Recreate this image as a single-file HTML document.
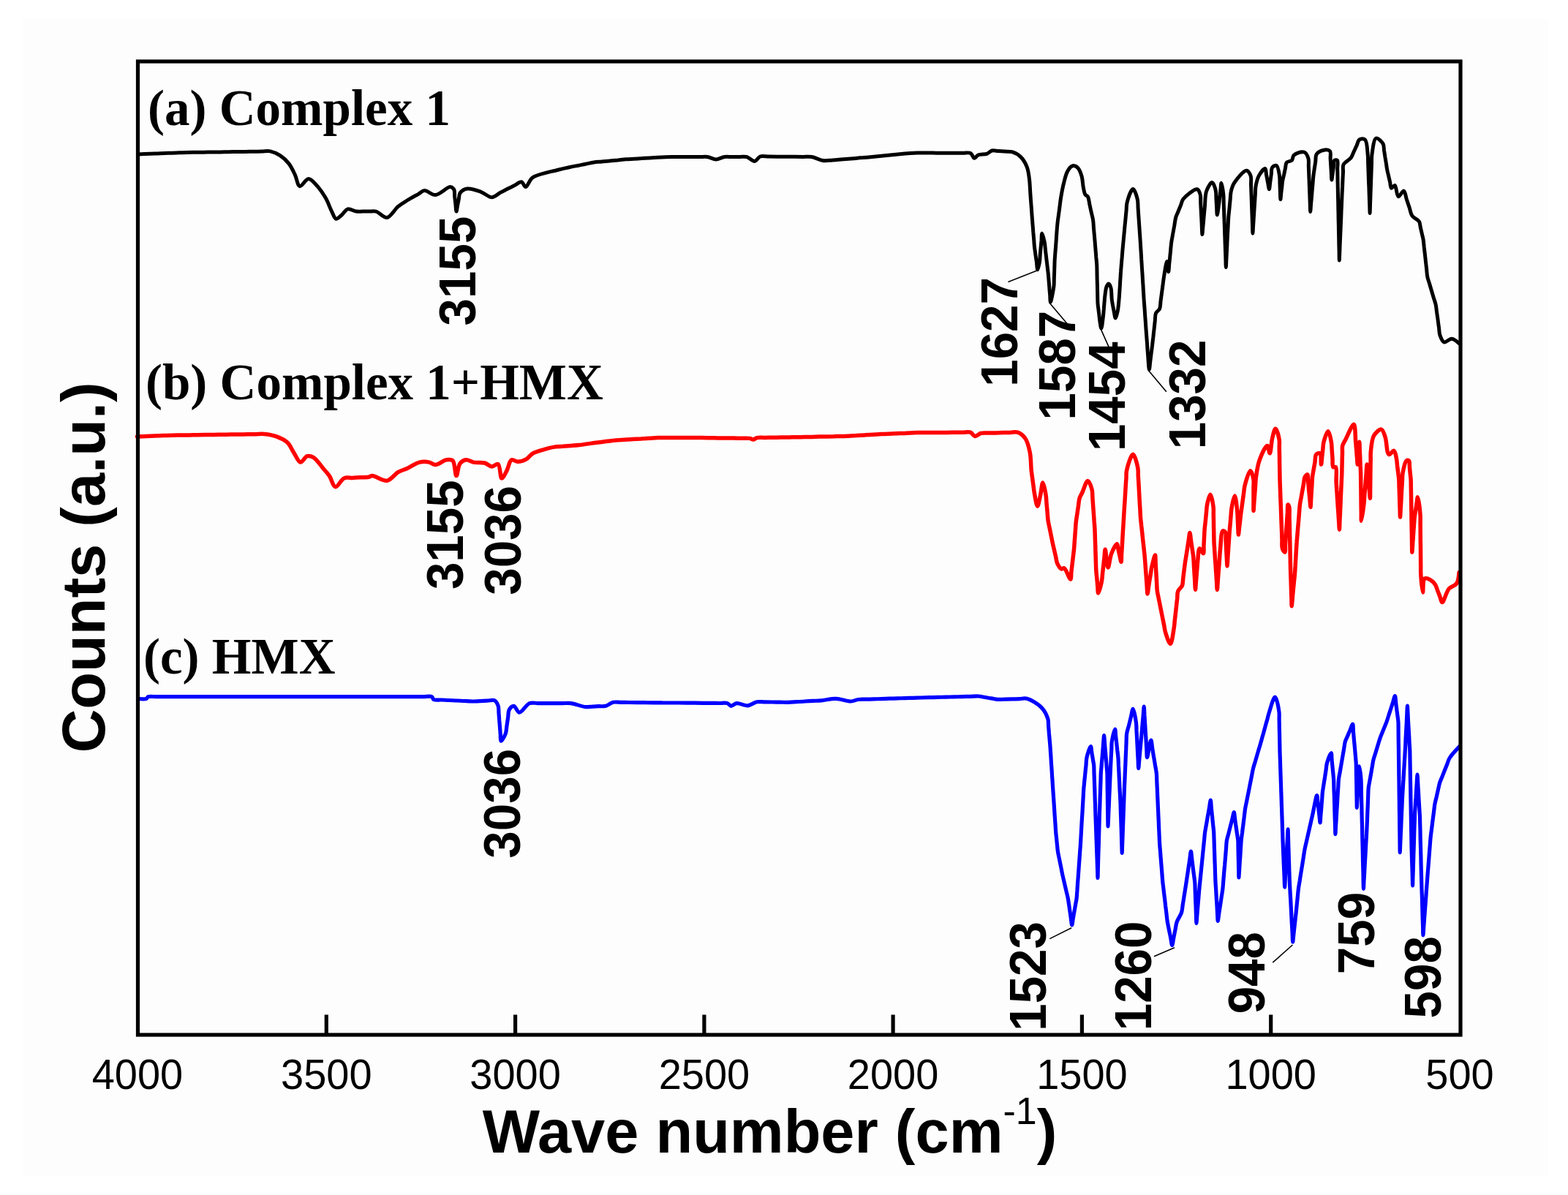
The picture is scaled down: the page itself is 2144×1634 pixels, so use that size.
<!DOCTYPE html>
<html><head><meta charset="utf-8"><title>IR spectra</title>
<style>
html,body{margin:0;padding:0;background:#fff;overflow:hidden}
svg{display:block}
.sans{font-family:"Liberation Sans",Arial,sans-serif}
.serif{font-family:"Liberation Serif","Times New Roman",serif}
</style></head><body>
<svg width="2144" height="1634" viewBox="0 0 2144 1634">
<rect x="0" y="0" width="2144" height="1634" fill="#ffffff"/>
<rect x="31" y="26" width="2086" height="1583" fill="#fdfdfe"/>
<g fill="none" stroke-linejoin="round" stroke-linecap="round">
<path stroke="#000000" stroke-width="5.0" d="M188.4,211.0C188.4,211.0 200.1,210.4 205.0,210.2C208.8,210.0 211.7,210.0 215.1,209.9C218.5,209.7 221.8,209.6 225.2,209.5C228.6,209.4 231.9,209.3 235.3,209.2C238.7,209.1 242.0,209.0 245.4,208.8C248.8,208.7 252.0,208.6 255.5,208.5C259.2,208.4 263.1,208.4 266.9,208.3C270.7,208.3 274.5,208.2 278.3,208.2C282.1,208.1 286.0,208.1 289.8,208.0C293.6,208.0 297.4,207.9 301.2,207.9C305.0,207.8 308.8,207.8 312.6,207.7C316.4,207.6 320.2,207.6 324.0,207.5C327.8,207.5 331.6,207.4 335.4,207.4C339.2,207.3 343.1,207.3 346.9,207.2C350.7,207.2 354.5,207.1 358.3,207.1C362.1,207.0 365.8,206.1 369.7,206.9C374.1,207.8 378.9,210.0 383.0,212.7C387.3,215.5 391.6,219.4 394.9,223.6C398.4,228.0 400.8,233.6 403.3,238.8C405.8,244.0 406.8,254.0 410.0,254.7C413.0,255.4 417.9,244.7 421.7,244.6C425.1,244.5 428.4,248.8 431.8,252.2C436.3,256.8 441.5,264.3 445.2,270.6C448.7,276.6 450.9,283.9 453.6,289.1C455.6,293.0 457.1,298.6 459.5,299.2C461.6,299.7 464.5,296.2 467.0,294.2C469.9,291.9 472.2,286.7 475.5,285.8C478.9,284.9 483.5,288.6 487.2,289.1C490.4,289.5 493.2,289.1 496.2,289.1C499.2,289.1 502.1,289.1 505.1,289.1C508.1,289.1 510.8,288.3 514.1,289.1C518.6,290.3 524.4,298.2 529.2,297.5C534.5,296.8 539.3,286.5 544.3,282.4C548.5,278.9 553.1,276.3 556.8,274.0C559.7,272.2 562.0,271.0 564.6,269.5C567.2,268.0 569.9,266.6 572.5,265.1C575.1,263.6 577.2,260.8 580.3,260.6C584.5,260.3 590.1,266.8 595.4,266.5C601.7,266.1 611.2,255.4 615.6,255.6C617.9,255.7 619.5,257.2 620.6,258.9C622.0,261.2 621.4,265.6 621.7,269.0C622.1,272.3 622.5,275.7 622.9,279.0C623.2,282.4 623.5,289.1 624.0,289.1C624.5,289.1 625.1,283.5 625.7,280.7C626.2,277.9 626.8,275.2 627.3,272.4C627.9,269.6 627.4,266.3 629.0,264.0C630.9,261.3 635.0,258.6 639.0,258.0C644.1,257.2 651.8,260.2 657.5,262.3C662.9,264.2 667.9,269.9 672.6,269.8C676.8,269.7 680.7,265.1 684.4,263.1C687.7,261.3 690.8,259.9 693.9,258.3C697.1,256.7 700.3,255.2 703.5,253.6C706.6,252.0 710.4,248.3 713.0,248.8C715.4,249.3 716.7,255.7 718.8,255.6C721.6,255.5 723.6,246.2 728.0,243.0C733.3,239.0 744.1,237.1 749.9,235.4C753.7,234.3 756.2,233.9 759.4,233.2C762.6,232.4 765.7,231.7 768.9,230.9C772.1,230.2 775.1,229.4 778.4,228.7C782.0,227.9 785.9,227.2 789.6,226.5C793.3,225.7 797.1,225.0 800.8,224.2C804.5,223.5 808.3,222.5 812.0,222.0C815.7,221.5 819.3,221.3 822.9,220.9C826.6,220.6 830.2,220.2 833.9,219.9C837.5,219.6 841.1,219.2 844.8,218.9C848.4,218.5 852.1,218.1 855.7,217.8C859.3,217.5 863.0,217.4 866.6,217.2C870.2,217.0 873.9,216.8 877.5,216.6C881.1,216.3 884.8,216.1 888.4,215.9C892.0,215.7 895.2,215.5 899.3,215.3C904.8,215.0 913.2,214.6 918.5,214.5C922.3,214.4 925.0,214.5 928.2,214.5C931.5,214.5 934.7,214.5 938.0,214.5C941.2,214.5 944.5,214.5 947.7,214.5C951.0,214.5 954.2,214.5 957.5,214.5C960.7,214.5 963.8,214.0 967.2,214.5C971.0,215.0 975.1,217.9 979.0,217.9C982.9,217.9 986.9,215.0 990.7,214.5C994.1,214.0 997.4,214.5 1000.8,214.5C1004.1,214.5 1007.5,214.5 1010.8,214.5C1014.2,214.5 1017.6,213.7 1020.9,214.5C1024.6,215.4 1028.6,220.7 1031.8,220.4C1034.7,220.1 1036.4,215.1 1039.4,214.0C1042.7,212.8 1047.2,214.1 1051.2,214.1C1055.1,214.1 1059.0,214.1 1062.9,214.2C1066.8,214.2 1070.7,214.2 1074.7,214.2C1078.6,214.3 1082.5,214.3 1086.4,214.3C1090.3,214.4 1094.2,214.4 1098.2,214.4C1102.1,214.4 1105.8,213.8 1109.9,214.5C1114.7,215.3 1120.0,218.8 1125.0,219.5C1129.6,220.1 1133.5,219.3 1138.5,219.0C1144.8,218.6 1154.2,217.8 1160.0,217.3C1164.0,217.0 1166.7,216.7 1170.0,216.4C1173.3,216.1 1176.7,215.8 1180.0,215.6C1183.3,215.3 1186.7,215.0 1190.0,214.7C1193.3,214.4 1196.7,214.1 1200.0,213.8C1203.3,213.5 1206.7,213.1 1210.0,212.8C1213.3,212.5 1216.7,212.1 1220.0,211.8C1223.3,211.5 1225.9,211.2 1230.0,210.8C1236.3,210.2 1247.9,209.2 1254.3,209.0C1258.5,208.9 1261.2,209.0 1264.7,209.1C1268.2,209.1 1271.6,209.1 1275.1,209.1C1278.6,209.1 1282.0,209.2 1285.5,209.2C1289.0,209.2 1292.4,209.2 1295.9,209.2C1299.4,209.2 1302.8,209.3 1306.3,209.3C1309.8,209.3 1313.2,209.3 1316.7,209.3C1320.2,209.4 1324.5,208.1 1327.1,209.4C1329.5,210.6 1330.5,216.1 1332.3,216.3C1333.9,216.5 1335.2,213.0 1337.4,212.0C1340.4,210.6 1346.1,211.5 1349.4,210.3C1352.1,209.3 1353.7,206.7 1356.3,206.0C1359.0,205.3 1362.4,206.4 1365.4,206.6C1368.5,206.8 1371.5,206.9 1374.6,207.1C1377.6,207.3 1380.6,206.8 1383.7,207.7C1387.6,208.9 1392.4,211.4 1395.7,214.6C1399.3,218.1 1402.2,223.2 1404.2,228.3C1406.4,233.9 1407.1,242.0 1407.7,247.1C1408.1,250.5 1408.1,252.8 1408.3,255.7C1408.5,258.5 1408.6,261.4 1408.8,264.2C1409.0,267.1 1409.2,269.7 1409.4,272.8C1409.7,276.3 1410.0,280.4 1410.3,284.2C1410.6,288.0 1410.8,291.9 1411.1,295.7C1411.4,299.5 1411.7,303.4 1412.0,307.1C1412.3,310.6 1412.6,314.0 1412.8,317.4C1413.1,320.8 1413.4,324.3 1413.7,327.7C1413.9,331.1 1414.1,334.6 1414.5,338.0C1414.9,341.4 1415.5,344.8 1415.9,348.3C1416.4,351.7 1416.9,355.1 1417.4,358.5C1417.8,362.0 1418.1,368.8 1418.8,368.8C1419.5,368.8 1420.8,361.9 1421.4,358.5C1422.0,355.2 1422.0,351.9 1422.2,348.6C1422.5,345.4 1422.8,342.1 1423.1,338.8C1423.4,335.5 1423.7,332.2 1424.0,329.0C1424.2,325.7 1424.2,319.2 1424.8,319.1C1425.5,319.0 1427.4,327.1 1428.2,331.1C1428.9,334.9 1429.1,338.5 1429.5,342.2C1429.9,346.0 1430.4,349.7 1430.8,353.4C1431.2,357.1 1431.7,360.8 1432.1,364.6C1432.5,368.3 1433.1,372.1 1433.4,375.7C1433.7,378.9 1433.9,381.9 1434.2,385.0C1434.4,388.1 1434.7,391.2 1434.9,394.4C1435.1,397.5 1435.4,400.6 1435.7,403.7C1435.9,406.8 1435.9,413.0 1436.4,413.0C1437.2,413.1 1440.3,396.7 1441.0,391.0C1441.4,387.4 1441.2,385.0 1441.3,382.0C1441.4,379.0 1441.5,376.0 1441.6,373.0C1441.7,370.0 1441.8,367.0 1441.9,364.0C1442.0,361.0 1442.0,357.9 1442.2,355.0C1442.4,352.2 1442.6,349.4 1442.8,346.7C1443.0,343.9 1443.3,341.1 1443.5,338.3C1443.7,335.6 1443.8,333.5 1444.1,330.0C1444.5,324.1 1445.1,313.5 1445.9,306.0C1446.6,299.3 1447.6,293.2 1448.4,287.0C1449.2,280.9 1449.8,275.0 1450.8,269.0C1451.8,262.9 1453.0,256.5 1454.5,250.6C1455.9,245.1 1457.2,238.8 1459.4,234.7C1461.1,231.6 1463.5,228.4 1465.5,227.3C1466.7,226.6 1467.9,226.4 1469.2,226.7C1470.8,227.0 1472.7,228.1 1474.1,229.8C1476.2,232.2 1477.8,236.7 1479.0,240.8C1480.4,245.5 1480.4,252.1 1481.4,256.7C1482.1,260.2 1482.5,263.9 1483.9,266.0C1484.8,267.5 1486.6,267.5 1487.5,269.0C1488.9,271.3 1489.1,276.1 1489.9,279.7C1490.7,283.2 1491.4,286.8 1492.2,290.3C1493.0,293.9 1494.1,297.5 1494.6,301.0C1495.1,304.4 1495.2,307.7 1495.4,311.1C1495.7,314.5 1496.0,317.8 1496.3,321.2C1496.6,324.6 1496.9,327.9 1497.2,331.3C1497.4,334.7 1497.7,338.0 1498.0,341.4C1498.3,344.8 1498.6,348.1 1498.8,351.5C1499.1,354.9 1499.5,358.2 1499.7,361.6C1499.9,365.1 1499.9,368.7 1500.0,372.3C1500.0,375.8 1500.1,379.4 1500.2,383.0C1500.3,386.5 1500.4,390.1 1500.5,393.6C1500.6,397.2 1500.7,400.8 1500.7,404.3C1500.8,407.9 1500.8,411.7 1501.0,415.0C1501.2,418.0 1501.7,420.6 1502.0,423.3C1502.3,426.1 1502.7,428.9 1503.0,431.7C1503.3,434.4 1503.5,437.2 1504.0,440.0C1504.5,443.0 1505.2,449.0 1505.8,449.0C1506.7,449.0 1507.9,436.8 1508.5,432.0C1508.9,428.5 1509.0,426.0 1509.3,423.0C1509.5,420.0 1509.8,417.0 1510.0,414.0C1510.3,411.0 1510.4,408.3 1510.8,405.0C1511.3,401.1 1511.8,395.0 1513.0,392.0C1513.7,390.2 1514.9,388.0 1515.8,388.0C1516.8,388.0 1518.1,390.7 1518.8,393.0C1520.1,396.9 1519.6,404.5 1520.3,410.0C1521.0,415.2 1522.1,420.5 1523.0,425.0C1523.8,428.7 1524.4,435.0 1525.3,435.0C1526.2,435.0 1527.5,429.0 1528.3,425.0C1529.4,419.3 1530.0,409.8 1530.5,404.0C1530.8,399.9 1530.9,396.9 1531.2,393.3C1531.4,389.8 1531.6,386.2 1531.8,382.7C1532.1,379.1 1532.2,375.5 1532.5,372.0C1532.7,368.6 1533.1,365.2 1533.3,361.8C1533.6,358.4 1533.9,355.0 1534.2,351.6C1534.4,348.2 1534.7,344.8 1535.0,341.4C1535.3,337.9 1535.7,334.2 1536.0,330.6C1536.4,327.0 1536.7,323.5 1537.0,319.9C1537.4,316.3 1537.7,312.7 1538.0,309.1C1538.4,305.5 1538.7,301.9 1539.1,298.3C1539.4,294.7 1539.7,291.2 1540.1,287.6C1540.4,284.0 1540.1,280.8 1541.1,276.8C1542.5,271.4 1546.7,258.6 1549.2,258.6C1551.4,258.6 1554.2,268.1 1555.3,272.7C1556.3,276.7 1555.8,280.5 1556.1,284.4C1556.4,288.3 1556.6,292.2 1556.9,296.1C1557.2,300.0 1557.4,304.0 1557.7,307.9C1558.0,311.8 1558.2,315.7 1558.5,319.6C1558.8,323.5 1559.0,327.4 1559.3,331.3C1559.6,335.2 1559.8,339.0 1560.0,342.8C1560.3,346.7 1560.5,350.5 1560.7,354.4C1561.0,358.2 1561.2,362.1 1561.4,365.9C1561.7,369.8 1561.9,373.6 1562.2,377.5C1562.4,381.3 1562.6,385.2 1562.9,389.0C1563.1,392.9 1563.3,396.7 1563.6,400.6C1563.8,404.4 1564.0,408.2 1564.3,412.1C1564.6,416.0 1564.9,420.0 1565.2,423.9C1565.4,427.8 1565.7,431.7 1566.0,435.7C1566.3,439.6 1566.6,443.5 1566.8,447.5C1567.1,451.4 1567.4,455.3 1567.7,459.2C1568.0,463.2 1568.3,467.1 1568.6,471.0C1568.8,474.9 1569.0,478.3 1569.4,482.8C1569.9,489.0 1570.7,505.0 1571.4,505.0C1571.9,505.0 1572.3,497.8 1572.8,494.2C1573.2,490.6 1573.7,487.1 1574.1,483.5C1574.6,479.9 1575.1,476.3 1575.5,472.7C1575.9,469.0 1576.3,465.3 1576.8,461.6C1577.2,457.9 1577.6,454.2 1578.0,450.5C1578.4,446.8 1578.8,443.1 1579.2,439.4C1579.7,435.7 1579.2,431.3 1580.5,428.3C1581.6,425.8 1584.5,424.7 1585.6,422.2C1586.9,419.2 1586.6,414.8 1587.1,411.1C1587.6,407.4 1588.1,403.7 1588.6,400.0C1589.1,396.3 1589.6,392.6 1590.1,388.9C1590.6,385.2 1590.9,382.0 1591.6,377.8C1592.6,372.1 1594.6,357.6 1595.7,357.6C1596.6,357.6 1597.2,371.7 1597.7,371.7C1598.1,371.7 1598.4,365.0 1598.7,361.6C1599.0,358.2 1599.4,354.9 1599.7,351.5C1600.0,348.1 1600.4,344.8 1600.7,341.4C1601.0,338.0 1601.2,334.8 1601.7,331.3C1602.2,327.6 1603.1,323.7 1603.7,319.9C1604.4,316.1 1605.1,312.2 1605.8,308.4C1606.4,304.6 1606.8,300.5 1607.8,297.0C1608.7,294.0 1610.1,291.4 1611.2,288.7C1612.3,285.9 1613.5,283.1 1614.6,280.3C1615.7,277.6 1615.8,274.8 1618.0,272.0C1621.5,267.6 1633.1,257.9 1636.9,258.7C1639.2,259.2 1640.3,263.0 1641.1,265.7C1642.1,268.8 1641.5,273.0 1641.7,276.7C1641.8,280.3 1642.0,284.0 1642.2,287.7C1642.4,291.3 1642.6,295.0 1642.8,298.6C1643.0,302.3 1643.2,306.0 1643.3,309.6C1643.5,313.3 1643.6,320.6 1643.9,320.6C1644.1,320.6 1644.5,314.3 1644.8,311.1C1645.1,307.9 1645.4,304.8 1645.7,301.6C1645.9,298.4 1646.2,295.3 1646.5,292.1C1646.8,288.9 1647.0,286.4 1647.4,282.6C1648.0,277.0 1647.5,267.3 1649.6,261.5C1651.3,256.7 1655.1,249.4 1657.3,249.5C1659.3,249.6 1661.3,256.4 1662.2,260.1C1663.1,263.7 1662.7,267.6 1662.9,271.4C1663.1,275.1 1663.4,278.9 1663.6,282.6C1663.8,286.4 1663.8,293.9 1664.3,293.9C1664.9,293.9 1666.4,280.5 1667.1,275.6C1667.5,272.2 1667.7,270.0 1668.1,267.1C1668.4,264.3 1668.7,261.5 1669.0,258.7C1669.4,255.8 1669.5,250.2 1670.0,250.2C1670.6,250.2 1672.3,260.9 1672.8,265.7C1673.2,269.7 1673.1,273.1 1673.2,276.8C1673.3,280.5 1673.4,284.2 1673.6,287.9C1673.7,291.6 1673.8,295.3 1674.0,299.0C1674.1,302.7 1674.2,306.4 1674.4,310.1C1674.5,313.8 1674.6,317.5 1674.7,321.2C1674.9,324.9 1675.0,328.6 1675.1,332.3C1675.3,336.0 1675.4,339.7 1675.5,343.4C1675.7,347.1 1675.8,350.8 1675.9,354.5C1676.0,358.2 1676.1,365.6 1676.3,365.6C1676.5,365.6 1676.7,357.9 1676.9,354.1C1677.1,350.3 1677.3,346.5 1677.5,342.6C1677.7,338.8 1677.9,335.0 1678.0,331.1C1678.2,327.3 1678.4,323.5 1678.6,319.7C1678.8,315.8 1679.0,312.0 1679.2,308.2C1679.4,304.4 1679.5,300.5 1679.8,296.7C1680.1,292.8 1680.6,288.9 1681.0,285.0C1681.4,281.1 1681.7,277.1 1682.1,273.2C1682.5,269.3 1682.4,265.3 1683.3,261.5C1684.2,257.6 1685.1,254.1 1687.6,250.2C1691.1,244.8 1700.4,233.1 1704.4,233.3C1706.9,233.4 1709.0,237.6 1710.1,240.4C1711.3,243.6 1710.4,247.9 1710.5,251.7C1710.6,255.4 1710.8,259.2 1710.9,262.9C1711.0,266.7 1711.2,270.4 1711.3,274.2C1711.4,277.9 1711.6,281.7 1711.7,285.4C1711.8,289.2 1712.0,292.9 1712.1,296.7C1712.2,300.4 1712.4,304.2 1712.5,307.9C1712.6,311.7 1712.7,319.2 1712.9,319.2C1713.1,319.2 1713.4,312.0 1713.6,308.4C1713.8,304.8 1714.1,301.2 1714.3,297.6C1714.5,294.0 1714.8,290.4 1715.0,286.8C1715.2,283.2 1715.5,279.6 1715.7,276.0C1715.9,272.4 1716.2,268.8 1716.4,265.2C1716.6,261.6 1716.4,258.2 1717.1,254.4C1717.9,250.0 1719.1,244.5 1721.3,240.4C1723.4,236.6 1728.1,230.1 1729.8,230.5C1731.3,230.9 1731.0,236.8 1731.7,239.9C1732.3,243.0 1732.9,246.2 1733.5,249.3C1734.2,252.4 1734.9,258.7 1735.4,258.7C1736.0,258.7 1736.3,252.1 1736.8,248.8C1737.3,245.5 1737.7,242.3 1738.2,239.0C1738.7,235.7 1738.1,231.2 1739.6,229.1C1740.8,227.4 1743.8,225.6 1745.3,226.3C1747.6,227.3 1748.8,236.0 1749.5,240.4C1750.1,244.2 1749.8,247.6 1750.0,251.2C1750.1,254.8 1750.3,258.3 1750.4,261.9C1750.6,265.5 1750.6,272.7 1750.9,272.7C1751.1,272.7 1751.5,267.1 1751.8,264.3C1752.1,261.5 1752.5,258.6 1752.8,255.8C1753.1,253.0 1753.2,250.2 1753.7,247.4C1754.2,244.6 1754.9,241.8 1755.6,239.0C1756.2,236.2 1756.8,233.3 1757.4,230.5C1758.1,227.7 1757.7,224.0 1759.3,222.1C1760.8,220.3 1764.7,220.9 1766.4,219.3C1768.0,217.7 1767.2,214.0 1769.2,212.2C1771.9,209.7 1779.9,206.8 1783.3,208.0C1786.1,209.0 1787.9,213.3 1788.9,216.4C1789.9,219.6 1789.2,223.4 1789.3,226.9C1789.4,230.3 1789.6,233.8 1789.7,237.3C1789.8,240.8 1790.0,244.3 1790.1,247.8C1790.2,251.3 1790.4,254.7 1790.5,258.2C1790.6,261.7 1790.8,265.2 1790.9,268.7C1791.0,272.2 1791.2,275.7 1791.3,279.1C1791.4,282.6 1791.5,289.6 1791.7,289.6C1791.9,289.6 1792.3,283.0 1792.5,279.8C1792.8,276.5 1793.1,273.2 1793.4,269.9C1793.7,266.6 1793.9,263.4 1794.2,260.1C1794.5,256.8 1794.8,253.5 1795.1,250.2C1795.3,247.0 1795.5,243.7 1795.9,240.4C1796.3,237.1 1796.9,233.8 1797.3,230.5C1797.8,227.2 1798.3,224.0 1798.8,220.7C1799.2,217.4 1798.5,213.3 1800.2,210.8C1802.0,208.1 1806.7,205.8 1810.0,205.2C1812.8,204.7 1816.9,204.9 1818.5,206.6C1820.2,208.4 1818.9,213.2 1819.1,216.4C1819.3,219.7 1819.5,223.0 1819.7,226.2C1819.9,229.5 1820.1,232.8 1820.3,236.1C1820.5,239.3 1820.6,245.9 1820.9,245.9C1821.2,245.9 1821.7,240.0 1822.2,237.0C1822.6,234.1 1823.0,231.1 1823.4,228.2C1823.9,225.2 1823.4,220.5 1824.7,219.3C1825.6,218.5 1827.7,218.5 1828.5,219.3C1829.9,220.7 1828.7,226.9 1828.7,230.7C1828.8,234.5 1828.9,238.3 1829.0,242.1C1829.0,245.9 1829.1,249.7 1829.2,253.5C1829.3,257.3 1829.4,261.1 1829.4,264.9C1829.5,268.7 1829.6,272.5 1829.7,276.3C1829.7,280.1 1829.8,283.9 1829.9,287.6C1830.0,291.4 1830.1,295.2 1830.1,299.0C1830.2,302.8 1830.3,306.6 1830.4,310.4C1830.4,314.2 1830.5,318.0 1830.6,321.8C1830.7,325.6 1830.8,329.4 1830.8,333.2C1830.9,337.0 1831.0,340.8 1831.1,344.6C1831.1,348.4 1831.2,356.0 1831.3,356.0C1831.4,356.0 1831.6,348.4 1831.8,344.6C1831.9,340.8 1832.1,337.0 1832.2,333.2C1832.4,329.4 1832.6,325.6 1832.7,321.8C1832.9,318.0 1833.0,314.2 1833.2,310.4C1833.4,306.7 1833.5,302.9 1833.7,299.1C1833.8,295.3 1834.0,291.5 1834.1,287.7C1834.3,283.9 1834.5,280.1 1834.6,276.3C1834.8,272.5 1834.9,268.6 1835.1,264.9C1835.3,261.5 1835.4,258.2 1835.6,254.9C1835.7,251.6 1835.9,248.3 1836.0,244.9C1836.2,241.6 1836.4,238.3 1836.5,235.0C1836.7,231.7 1835.6,228.0 1837.0,225.0C1838.7,221.4 1845.0,218.8 1847.4,215.5C1849.3,212.9 1849.9,210.0 1851.2,207.3C1852.5,204.6 1853.7,201.8 1855.0,199.1C1856.3,196.4 1856.8,192.2 1858.8,190.9C1860.7,189.7 1864.5,189.3 1866.4,190.9C1869.5,193.5 1869.6,205.8 1870.2,211.7C1870.7,216.0 1870.5,219.3 1870.6,223.1C1870.8,226.9 1870.9,230.7 1871.0,234.5C1871.2,238.3 1871.3,242.1 1871.4,245.9C1871.6,249.7 1871.7,253.4 1871.9,257.2C1872.0,261.0 1872.1,264.8 1872.3,268.6C1872.4,272.4 1872.5,276.2 1872.7,280.0C1872.8,283.8 1873.0,291.4 1873.1,291.4C1873.2,291.4 1873.4,283.8 1873.5,280.0C1873.6,276.2 1873.8,272.4 1873.9,268.6C1874.0,264.8 1874.2,261.0 1874.3,257.2C1874.4,253.4 1874.6,249.7 1874.7,245.9C1874.8,242.1 1875.0,238.3 1875.1,234.5C1875.2,230.7 1875.4,226.9 1875.5,223.1C1875.6,219.3 1875.3,216.1 1875.9,211.7C1876.8,205.4 1878.3,190.1 1881.6,189.0C1884.0,188.2 1889.3,193.6 1891.1,196.6C1892.6,199.2 1892.1,202.6 1892.5,205.6C1893.0,208.6 1893.5,211.6 1893.9,214.6C1894.4,217.6 1894.9,220.6 1895.4,223.6C1895.8,226.6 1896.2,229.7 1896.8,232.6C1897.3,235.4 1898.1,238.1 1898.7,240.8C1899.3,243.6 1900.0,246.3 1900.6,249.1C1901.2,251.8 1901.2,256.9 1902.5,257.3C1903.6,257.7 1905.9,253.1 1907.2,253.5C1909.4,254.2 1909.6,268.1 1912.0,268.7C1914.0,269.2 1917.6,260.7 1919.5,261.1C1921.5,261.6 1922.0,268.7 1923.3,272.5C1924.6,276.3 1925.8,280.0 1927.1,283.8C1928.4,287.6 1928.7,292.0 1930.9,295.2C1933.1,298.4 1938.5,299.9 1940.4,302.8C1941.9,305.3 1941.7,308.3 1942.3,311.0C1942.9,313.8 1943.6,316.5 1944.2,319.3C1944.8,322.0 1945.6,324.6 1946.1,327.5C1946.6,330.7 1946.9,334.3 1947.2,337.7C1947.6,341.2 1948.0,344.6 1948.4,348.0C1948.8,351.4 1949.1,354.8 1949.5,358.2C1949.9,361.6 1950.3,365.0 1950.7,368.5C1951.0,371.9 1951.1,375.4 1951.8,378.7C1952.5,382.0 1953.7,385.0 1954.7,388.2C1955.6,391.4 1956.5,394.5 1957.5,397.7C1958.4,400.9 1959.4,404.0 1960.3,407.2C1961.3,410.4 1962.5,413.4 1963.2,416.7C1963.9,420.1 1964.1,423.7 1964.6,427.1C1965.1,430.6 1965.6,434.1 1966.1,437.5C1966.5,441.0 1967.0,444.5 1967.5,448.0C1968.0,451.4 1967.7,455.1 1968.9,458.4C1970.1,461.8 1971.9,467.1 1974.6,467.9C1977.3,468.7 1981.6,463.0 1985.0,463.2C1988.5,463.4 1995.4,469.8 1995.4,469.8"/>
<path stroke="#ff0000" stroke-width="5.5" d="M187.5,596.9C187.5,596.9 195.5,596.6 199.5,596.5C203.5,596.3 207.5,596.2 211.4,596.0C215.4,595.9 219.4,595.8 223.4,595.6C227.4,595.5 231.5,595.3 235.4,595.2C239.3,595.1 243.0,595.1 246.8,595.0C250.7,595.0 254.5,594.9 258.3,594.9C262.1,594.8 265.9,594.8 269.7,594.7C273.6,594.7 277.4,594.6 281.2,594.6C285.0,594.5 288.8,594.5 292.6,594.4C296.4,594.4 300.3,594.3 304.1,594.3C307.9,594.2 311.7,594.2 315.5,594.1C319.3,594.1 323.1,594.0 327.0,594.0C330.8,593.9 334.6,593.9 338.4,593.8C342.2,593.8 346.0,593.7 349.9,593.7C353.7,593.6 357.1,593.1 361.3,593.5C366.4,594.0 372.8,594.9 378.1,596.9C383.4,598.9 389.2,601.5 393.2,605.3C397.0,608.9 398.7,614.3 401.6,618.7C404.6,623.2 407.5,631.7 410.8,632.1C413.7,632.4 416.8,624.6 420.1,623.7C422.8,623.0 425.7,623.8 428.5,625.4C432.9,627.9 438.0,635.9 441.9,640.5C445.1,644.2 447.7,646.8 450.3,650.6C453.3,655.0 455.3,665.2 458.7,665.7C462.0,666.2 466.1,655.8 470.4,653.9C473.9,652.3 477.9,653.5 481.6,653.4C485.3,653.2 489.1,653.0 492.8,652.8C496.5,652.7 501.0,652.9 504.0,652.3C506.0,651.9 506.8,650.6 509.0,650.6C513.5,650.6 523.2,658.3 529.2,657.3C534.9,656.3 539.3,648.5 544.3,645.6C548.5,643.2 552.4,642.5 556.8,640.5C562.0,638.1 568.2,633.4 573.6,632.1C578.2,631.0 583.1,631.3 587.0,632.1C590.2,632.7 592.2,635.6 595.4,635.5C599.7,635.4 606.1,629.5 610.5,628.8C613.6,628.3 616.8,627.8 618.9,629.6C622.3,632.6 622.2,650.6 624.0,650.6C625.6,650.6 626.1,637.5 629.0,633.8C631.1,631.1 634.4,629.1 637.4,628.8C640.5,628.5 643.7,631.4 647.5,632.1C652.0,633.0 658.2,631.8 662.6,633.0C666.4,634.0 669.4,637.9 672.6,638.0C675.5,638.1 678.9,633.5 681.0,634.6C684.2,636.2 683.7,653.6 686.1,654.0C687.9,654.3 690.7,647.7 692.8,643.9C695.2,639.5 696.3,630.3 699.5,628.8C701.8,627.7 704.9,631.3 707.9,631.3C711.5,631.3 716.2,629.8 719.6,627.9C722.9,626.1 724.6,622.4 728.0,620.4C731.8,618.1 736.7,616.8 741.5,615.3C746.7,613.7 753.2,611.9 758.3,611.1C762.4,610.4 765.7,610.5 769.5,610.3C773.2,610.0 776.9,609.7 780.6,609.4C784.4,609.2 787.7,609.1 791.8,608.6C796.8,608.0 803.6,606.8 808.6,606.1C812.7,605.5 816.1,605.2 819.8,604.7C823.5,604.2 827.3,603.8 831.0,603.3C834.7,602.8 838.4,602.2 842.2,601.9C846.0,601.6 849.8,601.4 853.6,601.2C857.4,601.0 861.2,600.8 865.0,600.5C868.8,600.3 872.7,600.1 876.5,599.9C880.3,599.6 884.1,599.4 887.9,599.2C891.7,599.0 895.6,598.6 899.3,598.5C902.8,598.4 906.0,598.5 909.4,598.5C912.8,598.5 916.2,598.5 919.5,598.5C922.9,598.5 926.3,598.5 929.6,598.5C933.0,598.6 936.4,598.6 939.8,598.6C943.1,598.6 946.5,598.6 949.9,598.6C953.3,598.6 956.6,598.6 960.0,598.6C963.5,598.6 967.2,598.7 970.8,598.7C974.4,598.8 978.1,598.8 981.7,598.9C985.3,598.9 988.9,599.0 992.5,599.0C996.1,599.0 999.7,599.1 1003.3,599.1C1006.9,599.2 1010.6,599.2 1014.2,599.3C1017.8,599.3 1022.1,598.9 1025.0,599.4C1027.0,599.7 1028.4,601.1 1030.0,601.0C1031.7,600.9 1033.0,599.1 1035.0,598.6C1037.9,597.9 1042.2,598.5 1045.8,598.4C1049.4,598.4 1053.1,598.3 1056.7,598.3C1060.3,598.2 1063.9,598.2 1067.5,598.1C1071.1,598.0 1074.7,598.0 1078.3,597.9C1081.9,597.9 1085.6,597.8 1089.2,597.8C1092.8,597.7 1096.5,597.7 1100.0,597.6C1103.4,597.5 1106.7,597.4 1110.0,597.4C1113.3,597.3 1116.7,597.2 1120.0,597.1C1123.3,597.1 1126.7,597.0 1130.0,596.9C1133.3,596.8 1136.7,596.7 1140.0,596.7C1143.3,596.6 1146.7,596.5 1150.0,596.4C1153.3,596.4 1156.6,596.3 1160.0,596.2C1163.6,596.1 1167.5,595.8 1171.2,595.6C1175.0,595.3 1178.8,595.1 1182.5,594.9C1186.2,594.7 1190.0,594.5 1193.8,594.2C1197.5,594.0 1201.4,593.8 1205.0,593.6C1208.4,593.4 1211.6,593.3 1214.9,593.2C1218.1,593.1 1221.4,592.9 1224.7,592.8C1228.0,592.7 1231.3,592.5 1234.6,592.4C1237.9,592.3 1241.2,592.1 1244.4,592.0C1247.7,591.9 1251.0,591.7 1254.3,591.6C1257.7,591.5 1261.2,591.6 1264.7,591.5C1268.1,591.5 1271.6,591.5 1275.1,591.5C1278.5,591.5 1282.0,591.4 1285.5,591.4C1288.9,591.4 1292.4,591.4 1295.8,591.4C1299.3,591.4 1302.8,591.3 1306.2,591.3C1309.7,591.3 1313.2,591.3 1316.6,591.3C1320.1,591.2 1324.1,590.2 1327.0,591.2C1329.5,592.1 1330.9,596.1 1333.2,596.4C1335.7,596.7 1338.6,593.0 1341.6,592.3C1344.7,591.5 1348.3,592.2 1351.6,592.1C1354.9,592.0 1358.2,591.9 1361.6,591.9C1364.9,591.8 1368.2,591.7 1371.5,591.6C1374.9,591.6 1378.2,591.5 1381.5,591.4C1384.8,591.3 1388.3,590.1 1391.5,591.2C1395.2,592.4 1399.2,595.7 1401.9,599.5C1405.2,604.2 1406.8,611.5 1408.2,618.3C1409.8,625.9 1409.5,636.7 1410.2,643.2C1410.7,647.4 1411.1,650.2 1411.6,653.6C1412.1,657.1 1412.5,660.6 1413.0,664.1C1413.5,667.5 1413.7,670.6 1414.4,674.5C1415.4,679.6 1417.2,692.2 1418.6,692.2C1419.9,692.2 1421.5,681.8 1422.7,676.5C1423.9,671.1 1424.7,659.9 1425.9,659.9C1427.1,659.9 1429.2,671.4 1430.0,676.5C1430.7,680.7 1430.7,684.4 1431.0,688.3C1431.4,692.2 1431.7,696.2 1432.1,700.1C1432.4,704.0 1432.6,708.1 1433.1,711.9C1433.6,715.5 1434.5,718.8 1435.2,722.3C1435.9,725.8 1436.6,729.2 1437.3,732.7C1438.0,736.2 1438.7,739.8 1439.4,743.1C1440.1,746.2 1440.8,749.1 1441.5,752.2C1442.2,755.2 1442.9,758.2 1443.6,761.2C1444.3,764.3 1444.4,767.5 1445.7,770.3C1447.0,773.1 1449.5,777.2 1451.4,777.9C1452.6,778.3 1453.9,776.4 1455.2,776.9C1457.9,778.1 1462.2,792.4 1463.7,792.1C1464.9,791.9 1464.5,785.3 1464.9,781.9C1465.3,778.5 1465.7,775.1 1466.1,771.7C1466.5,768.3 1466.9,764.9 1467.3,761.5C1467.7,758.1 1468.2,754.6 1468.5,751.3C1468.8,748.1 1469.0,745.0 1469.2,741.8C1469.4,738.6 1469.7,735.5 1469.9,732.3C1470.1,729.1 1470.4,726.0 1470.6,722.8C1470.8,719.6 1470.9,716.6 1471.3,713.3C1471.7,709.8 1472.4,706.1 1472.9,702.6C1473.4,699.0 1474.0,695.4 1474.5,691.8C1475.0,688.3 1475.1,684.3 1476.1,681.1C1477.0,678.3 1478.4,676.5 1479.8,673.5C1481.9,669.1 1485.1,657.4 1487.4,657.4C1489.4,657.4 1492.1,665.7 1493.1,669.7C1494.0,673.3 1493.6,676.8 1493.9,680.3C1494.1,683.9 1494.4,687.4 1494.6,690.9C1494.9,694.5 1495.1,698.0 1495.4,701.6C1495.6,705.1 1495.9,708.6 1496.1,712.2C1496.4,715.7 1496.7,719.2 1496.9,722.8C1497.1,726.5 1497.2,730.4 1497.3,734.2C1497.4,738.0 1497.5,741.8 1497.7,745.6C1497.8,749.4 1497.9,753.2 1498.0,757.0C1498.2,760.8 1498.3,764.6 1498.4,768.4C1498.5,772.2 1498.6,776.1 1498.8,779.8C1499.0,783.4 1499.4,786.8 1499.8,790.2C1500.1,793.7 1500.4,797.2 1500.7,800.7C1501.1,804.1 1501.0,811.0 1501.7,811.1C1502.6,811.2 1505.4,799.8 1506.4,794.9C1507.2,790.9 1507.2,787.6 1507.6,784.0C1508.0,780.4 1508.4,776.7 1508.8,773.1C1509.2,769.5 1509.6,765.8 1510.0,762.2C1510.4,758.6 1510.6,751.3 1511.2,751.3C1512.1,751.3 1513.5,775.9 1515.0,776.0C1516.4,776.1 1517.4,762.6 1519.7,757.0C1521.7,752.0 1525.7,743.5 1527.3,743.7C1528.5,743.9 1528.6,749.2 1529.2,751.9C1529.8,754.7 1530.5,757.4 1531.1,760.2C1531.7,762.9 1532.6,768.4 1533.0,768.4C1533.5,768.4 1533.4,761.2 1533.6,757.6C1533.8,754.1 1534.1,750.5 1534.3,746.9C1534.5,743.3 1534.7,739.7 1534.9,736.1C1535.1,732.6 1535.3,729.0 1535.5,725.4C1535.7,721.8 1536.0,718.2 1536.2,714.6C1536.4,711.1 1536.6,707.4 1536.8,703.9C1537.0,700.5 1537.2,697.1 1537.4,693.8C1537.6,690.4 1537.9,687.0 1538.1,683.6C1538.3,680.3 1538.5,676.9 1538.7,673.5C1538.9,670.1 1539.1,666.7 1539.3,663.4C1539.5,660.0 1539.8,656.6 1540.0,653.2C1540.2,649.9 1539.7,647.0 1540.6,643.1C1541.9,637.1 1546.5,621.3 1549.1,621.3C1551.5,621.3 1554.6,633.9 1555.7,639.3C1556.6,643.5 1556.1,646.9 1556.3,650.7C1556.5,654.5 1556.8,658.3 1557.0,662.1C1557.2,665.9 1557.4,669.7 1557.6,673.5C1557.8,677.2 1558.0,681.0 1558.2,684.8C1558.4,688.6 1558.7,692.4 1558.9,696.2C1559.1,700.0 1559.2,703.9 1559.5,707.6C1559.8,711.2 1560.3,714.7 1560.6,718.2C1561.0,721.8 1561.4,725.3 1561.8,728.9C1562.2,732.4 1562.5,736.0 1562.9,739.5C1563.3,743.1 1563.7,746.6 1564.1,750.2C1564.4,753.7 1564.9,757.3 1565.2,760.8C1565.5,764.2 1565.7,767.6 1566.0,771.0C1566.2,774.5 1566.5,777.9 1566.7,781.3C1567.0,784.7 1567.2,788.1 1567.5,791.5C1567.7,794.9 1568.0,798.3 1568.2,801.8C1568.5,805.2 1568.6,812.0 1569.0,812.0C1569.4,812.0 1570.0,806.0 1570.4,803.0C1570.9,800.0 1571.4,797.0 1571.8,794.0C1572.3,791.0 1572.8,788.0 1573.3,785.0C1573.8,782.0 1573.9,779.5 1574.7,776.0C1575.8,771.2 1578.7,758.8 1579.5,758.9C1580.1,759.0 1579.9,765.5 1580.1,768.8C1580.2,772.0 1580.4,775.3 1580.6,778.6C1580.8,781.9 1581.0,785.2 1581.2,788.5C1581.4,791.8 1581.6,795.1 1581.7,798.3C1581.9,801.6 1581.9,805.0 1582.3,808.2C1582.7,811.4 1583.6,814.5 1584.2,817.7C1584.8,820.9 1585.5,824.0 1586.1,827.2C1586.7,830.4 1587.4,833.5 1588.0,836.7C1588.6,839.9 1589.3,843.0 1589.9,846.2C1590.5,849.3 1591.2,852.5 1591.8,855.6C1592.4,858.8 1592.6,861.6 1593.7,865.1C1595.1,869.6 1598.5,880.5 1600.3,880.3C1602.4,880.1 1604.1,865.2 1605.1,859.5C1605.8,855.5 1605.9,852.7 1606.2,849.2C1606.6,845.8 1607.0,842.4 1607.4,839.0C1607.8,835.6 1608.1,832.1 1608.5,828.7C1608.9,825.3 1609.3,821.9 1609.7,818.5C1610.0,815.0 1609.6,811.2 1610.8,808.2C1611.9,805.3 1615.3,803.5 1616.5,800.6C1617.7,797.6 1617.3,793.9 1617.8,790.5C1618.2,787.1 1618.6,783.8 1619.0,780.4C1619.5,777.0 1619.8,773.7 1620.3,770.3C1620.8,766.8 1621.4,763.3 1622.0,759.8C1622.5,756.4 1623.1,752.9 1623.6,749.4C1624.1,745.9 1624.7,742.4 1625.2,739.0C1625.8,735.5 1626.4,728.5 1626.9,728.5C1627.4,728.5 1628.0,735.7 1628.5,739.3C1629.0,742.9 1629.6,746.4 1630.1,750.0C1630.6,753.6 1631.3,757.2 1631.7,760.8C1632.1,764.5 1632.2,768.4 1632.4,772.2C1632.6,776.0 1632.9,779.8 1633.1,783.5C1633.3,787.3 1633.6,791.1 1633.8,794.9C1634.0,798.7 1634.2,806.3 1634.5,806.3C1634.7,806.3 1635.0,799.8 1635.3,796.5C1635.6,793.2 1635.8,790.0 1636.1,786.7C1636.4,783.4 1636.6,780.2 1636.9,776.9C1637.2,773.6 1637.3,770.8 1637.7,767.1C1638.3,762.2 1638.5,750.4 1640.3,750.0C1641.5,749.7 1644.4,757.1 1645.4,756.8C1646.5,756.5 1645.8,749.6 1646.0,745.9C1646.2,742.3 1646.3,738.7 1646.5,735.1C1646.7,731.4 1646.8,727.9 1647.1,724.2C1647.4,720.4 1647.9,716.6 1648.3,712.8C1648.7,709.0 1649.0,705.2 1649.4,701.4C1649.8,697.6 1649.8,693.9 1650.6,690.0C1651.5,685.6 1653.5,676.3 1654.9,676.3C1656.4,676.3 1658.5,688.5 1659.1,693.4C1659.6,697.0 1659.2,699.8 1659.3,703.0C1659.3,706.2 1659.4,709.4 1659.5,712.6C1659.5,715.8 1659.6,719.0 1659.6,722.2C1659.7,725.4 1659.8,728.6 1659.8,731.8C1659.9,735.0 1659.9,738.1 1660.0,741.4C1660.1,744.9 1660.5,748.6 1660.7,752.2C1661.0,755.9 1661.2,759.5 1661.4,763.1C1661.7,766.7 1661.9,770.3 1662.2,774.0C1662.4,777.6 1662.6,781.2 1662.9,784.8C1663.1,788.4 1663.3,792.0 1663.6,795.6C1663.8,799.3 1664.0,806.5 1664.3,806.5C1664.6,806.5 1664.9,799.0 1665.2,795.2C1665.4,791.4 1665.7,787.7 1666.0,783.9C1666.3,780.1 1666.6,776.4 1666.9,772.6C1667.2,768.8 1667.5,765.1 1667.7,761.3C1668.0,757.5 1668.1,754.5 1668.6,750.0C1669.3,743.5 1669.6,727.2 1672.0,726.0C1672.9,725.5 1674.6,726.5 1675.4,727.7C1676.7,729.7 1675.8,735.4 1676.1,739.2C1676.3,743.1 1676.5,747.0 1676.7,750.8C1676.9,754.6 1677.1,758.5 1677.3,762.4C1677.6,766.2 1677.8,773.9 1678.0,773.9C1678.2,773.9 1678.5,767.3 1678.7,764.0C1678.9,760.6 1679.1,757.3 1679.4,754.0C1679.6,750.7 1679.8,747.4 1680.0,744.1C1680.3,740.8 1680.5,737.5 1680.7,734.1C1680.9,730.8 1681.1,727.5 1681.4,724.2C1681.7,720.9 1682.0,717.7 1682.3,714.5C1682.6,711.3 1682.8,708.0 1683.1,704.8C1683.4,701.6 1683.4,698.8 1684.0,695.1C1684.8,690.2 1687.1,677.9 1688.3,678.0C1689.7,678.1 1691.1,692.7 1691.7,698.5C1692.2,702.7 1692.1,705.7 1692.3,709.4C1692.5,713.0 1692.6,716.6 1692.8,720.2C1693.0,723.9 1693.1,731.1 1693.4,731.1C1693.7,731.1 1694.2,724.6 1694.5,721.4C1694.9,718.2 1695.3,714.9 1695.7,711.7C1696.0,708.5 1696.4,705.2 1696.8,702.0C1697.2,698.8 1697.7,695.7 1698.1,692.6C1698.5,689.4 1699.0,686.3 1699.4,683.1C1699.8,680.0 1700.3,676.9 1700.7,673.7C1701.1,670.6 1701.1,668.0 1702.0,664.3C1703.4,658.7 1707.5,643.7 1709.7,643.7C1711.4,643.7 1713.3,651.8 1714.0,655.7C1714.6,659.3 1714.0,662.8 1714.0,666.4C1714.0,670.0 1714.0,673.5 1714.0,677.1C1714.0,680.7 1714.0,684.2 1714.0,687.8C1714.0,691.4 1713.9,698.5 1714.0,698.5C1714.1,698.5 1714.6,690.8 1714.8,687.0C1715.1,683.1 1715.4,679.2 1715.7,675.4C1716.0,671.6 1716.3,667.7 1716.6,663.8C1716.8,660.0 1716.8,656.8 1717.4,652.3C1718.3,645.7 1719.8,635.6 1722.5,628.3C1725.0,621.4 1730.4,609.2 1732.8,609.4C1734.5,609.5 1735.3,619.8 1736.3,619.7C1737.7,619.6 1738.2,605.1 1739.7,599.1C1740.9,594.3 1742.5,586.3 1744.0,586.3C1745.6,586.3 1748.3,596.2 1749.1,600.8C1749.8,604.7 1749.2,608.1 1749.3,611.8C1749.3,615.4 1749.4,619.1 1749.5,622.8C1749.5,626.4 1749.6,630.1 1749.6,633.7C1749.7,637.4 1749.8,641.1 1749.8,644.7C1749.9,648.4 1749.9,652.0 1750.0,655.7C1750.1,659.6 1750.3,663.5 1750.4,667.5C1750.6,671.4 1750.7,675.3 1750.8,679.2C1751.0,683.2 1751.1,687.1 1751.3,691.0C1751.4,694.9 1751.6,698.9 1751.7,702.8C1751.8,706.7 1752.0,710.7 1752.1,714.6C1752.3,718.5 1752.4,722.4 1752.6,726.4C1752.7,730.3 1752.8,734.2 1753.0,738.1C1753.1,742.1 1752.4,746.9 1753.4,749.9C1754.1,752.1 1756.1,755.3 1756.8,755.1C1757.8,754.8 1757.3,747.9 1757.5,744.2C1757.8,740.6 1758.0,737.0 1758.2,733.4C1758.5,729.8 1758.7,726.2 1758.9,722.5C1759.2,718.9 1759.4,715.3 1759.7,711.7C1759.9,708.1 1760.1,704.5 1760.4,700.9C1760.6,697.2 1760.4,690.1 1761.1,690.0C1761.5,689.9 1762.4,691.9 1762.8,693.4C1763.5,696.1 1763.0,701.2 1763.0,705.2C1763.1,709.1 1763.2,713.0 1763.3,716.9C1763.4,720.8 1763.4,724.8 1763.5,728.7C1763.6,732.6 1763.7,736.5 1763.8,740.4C1763.9,744.3 1763.9,748.3 1764.0,752.2C1764.1,756.1 1764.2,760.0 1764.3,763.9C1764.3,767.9 1764.4,771.9 1764.5,775.7C1764.6,779.3 1764.7,782.8 1764.8,786.3C1765.0,789.9 1765.1,793.4 1765.2,796.9C1765.3,800.5 1765.4,804.0 1765.5,807.6C1765.6,811.1 1765.7,814.6 1765.9,818.2C1766.0,821.7 1766.0,828.8 1766.2,828.8C1766.4,828.8 1766.9,821.4 1767.3,817.6C1767.6,813.9 1768.0,810.2 1768.3,806.5C1768.7,802.8 1769.1,799.1 1769.4,795.4C1769.8,791.6 1770.2,787.9 1770.5,784.2C1770.8,780.6 1770.9,777.1 1771.2,773.5C1771.4,769.9 1771.6,766.4 1771.8,762.8C1772.0,759.2 1772.2,755.7 1772.4,752.1C1772.7,748.5 1772.8,744.9 1773.1,741.4C1773.3,737.9 1773.7,734.5 1774.0,731.1C1774.2,727.7 1774.5,724.3 1774.8,720.8C1775.1,717.4 1775.4,714.0 1775.7,710.6C1776.0,707.1 1776.3,703.7 1776.5,700.3C1776.8,696.9 1777.0,693.3 1777.4,690.0C1777.8,686.8 1778.5,683.7 1779.1,680.6C1779.7,677.4 1780.2,674.3 1780.8,671.1C1781.4,668.0 1781.9,664.9 1782.5,661.7C1783.1,658.6 1783.0,654.6 1784.2,652.3C1785.0,650.7 1786.9,648.5 1787.7,648.8C1788.9,649.2 1788.4,656.2 1788.8,659.9C1789.1,663.7 1789.5,667.4 1789.8,671.1C1790.2,674.8 1790.6,678.5 1790.9,682.2C1791.3,686.0 1791.7,693.4 1792.0,693.4C1792.3,693.4 1792.4,686.6 1792.6,683.1C1792.8,679.7 1793.0,676.3 1793.2,672.8C1793.5,669.4 1793.7,666.0 1793.9,662.6C1794.1,659.2 1794.1,655.7 1794.5,652.3C1794.9,648.9 1795.7,645.4 1796.2,642.0C1796.8,638.6 1797.4,635.1 1798.0,631.7C1798.5,628.3 1798.1,623.3 1799.7,621.4C1800.9,620.0 1803.6,618.9 1804.8,619.7C1806.8,621.0 1806.0,635.1 1806.5,635.1C1806.9,635.1 1807.3,628.3 1807.7,624.8C1808.1,621.4 1808.4,618.0 1808.8,614.6C1809.2,611.1 1809.1,608.0 1810.0,604.3C1811.2,599.8 1814.3,589.6 1816.0,589.7C1817.7,589.8 1819.5,599.7 1820.3,604.3C1821.0,608.3 1820.9,611.9 1821.2,615.7C1821.5,619.5 1821.7,623.4 1822.0,627.2C1822.3,631.0 1821.5,637.3 1822.9,638.6C1823.7,639.3 1825.5,637.8 1826.3,638.6C1828.4,640.6 1826.8,653.3 1827.1,659.1C1827.3,663.3 1827.6,666.3 1827.8,670.0C1828.1,673.6 1828.3,677.2 1828.5,680.8C1828.8,684.4 1829.0,688.0 1829.2,691.7C1829.5,695.3 1829.7,698.9 1830.0,702.5C1830.2,706.1 1830.4,709.7 1830.7,713.4C1830.9,717.0 1831.2,724.2 1831.4,724.2C1831.6,724.2 1831.7,716.9 1831.9,713.2C1832.0,709.5 1832.2,705.8 1832.4,702.2C1832.5,698.5 1832.7,694.8 1832.9,691.2C1833.0,687.5 1833.2,683.8 1833.3,680.1C1833.5,676.5 1833.7,672.8 1833.8,669.1C1834.0,665.5 1834.2,661.8 1834.3,658.1C1834.5,654.4 1834.7,650.6 1834.8,647.1C1834.9,643.8 1834.9,640.8 1835.0,637.7C1835.1,634.5 1835.2,631.4 1835.2,628.2C1835.3,625.1 1835.4,622.0 1835.5,618.8C1835.5,615.7 1835.0,612.4 1835.7,609.4C1836.5,606.4 1838.2,604.3 1840.0,600.8C1842.8,595.4 1848.8,579.9 1851.1,580.3C1853.4,580.8 1853.1,598.0 1853.7,604.3C1854.1,608.4 1854.3,611.1 1854.6,614.6C1854.9,618.0 1855.1,621.4 1855.4,624.8C1855.7,628.3 1856.0,635.1 1856.3,635.1C1856.6,635.1 1856.9,628.3 1857.1,624.8C1857.4,621.4 1857.7,618.0 1858.0,614.6C1858.2,611.1 1858.6,604.3 1858.8,604.3C1859.0,604.3 1859.1,611.4 1859.2,615.0C1859.4,618.6 1859.5,622.1 1859.7,625.7C1859.8,629.3 1860.0,632.8 1860.1,636.4C1860.3,640.0 1860.5,643.5 1860.6,647.1C1860.7,650.7 1860.7,654.3 1860.7,658.0C1860.8,661.6 1860.8,665.2 1860.9,668.8C1860.9,672.4 1861.0,676.0 1861.0,679.7C1861.0,683.3 1861.1,686.9 1861.1,690.5C1861.2,694.1 1861.2,697.7 1861.3,701.4C1861.3,705.0 1861.1,712.2 1861.4,712.2C1861.9,712.2 1864.1,696.1 1864.8,690.0C1865.3,685.7 1865.4,682.7 1865.7,679.0C1865.9,675.4 1866.2,671.7 1866.5,668.0C1866.8,664.4 1867.1,660.7 1867.4,657.1C1867.7,653.4 1868.0,649.7 1868.2,646.1C1868.5,642.4 1868.8,635.1 1869.1,635.1C1869.4,635.1 1869.8,642.8 1870.2,646.7C1870.5,650.5 1870.9,654.4 1871.2,658.2C1871.6,662.1 1872.0,666.0 1872.3,669.8C1872.7,673.7 1873.2,681.4 1873.4,681.4C1873.6,681.4 1873.5,674.4 1873.6,670.8C1873.6,667.3 1873.7,663.8 1873.7,660.3C1873.8,656.7 1873.8,653.2 1873.8,649.7C1873.9,646.2 1873.9,642.7 1874.0,639.1C1874.0,635.6 1874.1,632.1 1874.2,628.6C1874.2,625.0 1873.9,622.2 1874.3,618.0C1874.9,611.9 1875.5,601.0 1878.6,595.7C1881.0,591.6 1886.2,586.6 1888.8,587.1C1891.2,587.6 1892.5,593.1 1894.0,597.4C1896.2,603.6 1896.0,620.2 1899.1,621.4C1900.9,622.1 1904.3,615.8 1906.0,616.3C1907.9,616.9 1908.6,623.2 1909.4,626.6C1910.1,629.8 1910.2,633.1 1910.5,636.3C1910.9,639.5 1911.3,642.8 1911.7,646.0C1912.0,649.2 1912.6,652.4 1912.8,655.7C1913.1,659.1 1913.0,662.6 1913.1,666.0C1913.3,669.4 1913.4,672.8 1913.5,676.3C1913.6,679.7 1913.7,683.1 1913.8,686.5C1913.9,690.0 1914.0,693.4 1914.2,696.8C1914.3,700.2 1914.3,707.1 1914.5,707.1C1914.7,707.1 1914.9,700.4 1915.1,697.1C1915.3,693.8 1915.5,690.4 1915.7,687.1C1915.9,683.8 1916.1,680.4 1916.2,677.1C1916.4,673.8 1916.6,670.4 1916.8,667.1C1917.0,663.8 1917.2,660.4 1917.4,657.1C1917.6,653.8 1917.3,650.8 1918.0,647.1C1918.9,642.1 1920.8,631.7 1923.1,630.0C1924.1,629.2 1925.7,629.3 1926.5,630.0C1927.7,631.1 1927.1,635.7 1927.4,638.6C1927.7,641.4 1927.9,644.3 1928.2,647.1C1928.5,650.0 1928.9,652.7 1929.1,655.7C1929.3,659.1 1929.2,663.1 1929.3,666.7C1929.4,670.4 1929.4,674.1 1929.5,677.8C1929.5,681.5 1929.6,685.2 1929.7,688.8C1929.7,692.5 1929.8,696.2 1929.9,699.9C1929.9,703.6 1930.0,707.2 1930.0,710.9C1930.1,714.6 1930.2,718.3 1930.2,722.0C1930.3,725.6 1930.4,729.3 1930.4,733.0C1930.5,736.7 1930.5,740.4 1930.6,744.1C1930.7,747.7 1930.6,755.1 1930.8,755.1C1930.9,755.1 1931.3,748.7 1931.5,745.5C1931.7,742.3 1931.9,739.1 1932.2,735.9C1932.4,732.7 1932.6,729.5 1932.8,726.3C1933.1,723.1 1933.3,719.9 1933.5,716.7C1933.7,713.5 1933.8,710.3 1934.2,707.1C1934.6,704.0 1935.2,701.0 1935.6,698.0C1936.1,694.9 1936.6,691.9 1937.1,688.8C1937.5,685.8 1937.9,679.7 1938.5,679.7C1939.4,679.7 1941.5,697.1 1942.0,703.7C1942.4,708.3 1942.1,711.5 1942.1,715.4C1942.2,719.4 1942.2,723.3 1942.2,727.2C1942.3,731.1 1942.3,735.0 1942.3,738.9C1942.4,742.8 1942.4,746.8 1942.5,750.7C1942.5,754.6 1942.5,758.5 1942.6,762.4C1942.6,766.3 1942.6,770.2 1942.7,774.2C1942.7,778.1 1942.5,781.3 1942.8,785.9C1943.2,792.5 1944.5,809.9 1945.4,809.9C1946.2,809.9 1945.2,793.0 1948.0,791.1C1949.8,789.9 1953.4,791.5 1955.7,792.8C1958.3,794.2 1960.8,797.0 1962.5,799.6C1964.1,802.0 1964.6,804.9 1965.7,807.6C1966.7,810.3 1967.8,812.9 1968.8,815.6C1969.9,818.3 1970.6,823.5 1972.0,823.6C1974.2,823.7 1977.5,809.2 1981.4,804.8C1984.4,801.4 1989.4,801.3 1991.7,797.9C1994.3,794.1 1995.1,782.5 1995.1,782.5"/>
<path stroke="#0000ff" stroke-width="5.2" d="M188.8,955.3C188.8,955.3 197.8,956.3 200.1,955.3C201.4,954.7 201.3,953.3 202.6,952.7C205.0,951.7 210.4,952.7 214.4,952.7C218.3,952.7 222.2,952.7 226.1,952.7C230.0,952.7 233.9,952.7 237.9,952.7C241.8,952.7 245.7,952.7 249.6,952.7C253.5,952.7 257.5,952.7 261.4,952.7C265.3,952.7 269.2,952.7 273.1,952.7C277.0,952.7 281.0,952.7 284.9,952.7C288.8,952.7 292.7,952.7 296.6,952.7C300.6,952.7 304.5,952.7 308.4,952.7C312.3,952.7 316.2,952.7 320.1,952.7C324.1,952.7 328.0,952.7 331.9,952.7C335.8,952.7 339.7,952.7 343.7,952.7C347.6,952.7 351.5,952.7 355.4,952.7C359.3,952.7 363.2,952.7 367.2,952.7C371.1,952.7 375.0,952.7 378.9,952.7C382.8,952.7 386.8,952.7 390.7,952.7C394.6,952.7 398.5,952.7 402.4,952.7C406.3,952.7 410.3,952.7 414.2,952.7C418.1,952.7 422.0,952.7 425.9,952.7C429.9,952.7 433.8,952.7 437.7,952.7C441.6,952.7 445.5,952.7 449.4,952.7C453.4,952.7 457.3,952.7 461.2,952.7C465.1,952.7 469.0,952.7 473.0,952.7C476.9,952.7 480.8,952.7 484.7,952.7C488.6,952.7 492.5,952.7 496.5,952.7C500.4,952.7 504.3,952.7 508.2,952.7C512.1,952.7 516.1,952.7 520.0,952.7C523.9,952.7 527.8,952.7 531.7,952.7C535.6,952.7 539.6,952.7 543.5,952.7C547.4,952.7 551.3,952.7 555.2,952.7C559.2,952.7 563.1,952.7 567.0,952.7C570.9,952.7 574.8,952.7 578.7,952.7C582.7,952.7 588.2,951.4 590.5,952.7C591.9,953.5 591.6,955.7 593.0,956.5C595.2,957.7 600.1,956.8 603.6,957.0C607.1,957.2 610.7,957.3 614.2,957.5C617.7,957.7 621.3,957.8 624.8,958.0C628.3,958.2 631.9,958.3 635.4,958.5C638.9,958.7 642.5,959.0 646.0,959.0C649.4,959.0 652.7,958.7 656.1,958.6C659.4,958.5 662.8,958.3 666.1,958.2C669.5,958.1 673.7,956.5 676.2,957.8C678.6,959.0 680.2,962.5 681.2,965.3C682.2,968.2 681.7,971.7 682.0,974.9C682.2,978.1 682.5,981.3 682.7,984.5C683.0,987.7 683.2,990.8 683.5,994.0C683.7,997.2 684.0,1000.4 684.2,1003.6C684.5,1006.8 684.0,1012.9 685.0,1013.2C686.1,1013.5 690.0,1006.7 691.3,1003.1C692.6,999.7 692.4,995.8 693.0,992.2C693.5,988.6 694.1,984.9 694.6,981.3C695.2,977.7 694.7,973.1 696.3,970.4C697.7,968.0 700.5,965.1 702.6,965.3C705.1,965.5 707.2,974.0 710.2,974.2C714.0,974.4 719.3,963.4 724.0,961.6C727.7,960.2 731.5,961.6 735.3,961.6C739.1,961.6 742.8,961.6 746.6,961.6C750.4,961.6 754.1,961.6 757.9,961.6C761.7,961.6 765.4,961.6 769.2,961.6C773.0,961.6 776.2,961.1 780.5,961.6C786.3,962.3 795.2,966.1 800.6,966.6C804.2,967.0 806.8,966.3 809.8,966.2C812.9,966.0 816.0,965.9 819.1,965.7C822.1,965.6 825.2,966.1 828.3,965.3C831.7,964.4 834.8,961.1 838.4,960.3C841.9,959.5 845.8,960.4 849.6,960.4C853.3,960.4 857.0,960.5 860.7,960.5C864.4,960.5 868.2,960.5 871.9,960.6C875.6,960.6 879.3,960.6 883.0,960.7C886.7,960.7 890.5,960.7 894.2,960.8C897.9,960.8 901.6,960.8 905.3,960.9C909.1,960.9 912.8,960.9 916.5,961.0C920.2,961.0 923.9,961.0 927.7,961.0C931.4,961.1 935.1,961.1 938.8,961.1C942.5,961.2 946.3,961.2 950.0,961.2C953.7,961.3 957.4,961.3 961.1,961.3C964.8,961.4 968.6,961.4 972.3,961.4C976.0,961.4 979.7,961.5 983.4,961.5C987.2,961.5 991.7,960.6 994.6,961.6C996.7,962.3 997.7,965.1 999.6,965.3C1001.8,965.5 1004.2,962.0 1007.2,961.6C1011.3,961.1 1017.6,965.2 1022.3,964.8C1026.8,964.4 1030.8,960.6 1034.9,959.8C1038.5,959.1 1042.0,959.9 1045.6,959.9C1049.2,960.0 1052.7,960.0 1056.3,960.0C1059.9,960.1 1063.4,960.1 1067.0,960.2C1070.6,960.2 1074.1,960.4 1077.7,960.3C1081.4,960.2 1085.3,959.9 1089.0,959.7C1092.8,959.5 1096.6,959.3 1100.3,959.0C1104.1,958.8 1107.9,958.6 1111.7,958.4C1115.4,958.2 1118.7,958.2 1123.0,957.8C1128.8,957.3 1136.5,955.1 1143.2,955.3C1149.9,955.5 1157.8,959.2 1163.3,959.0C1167.3,958.9 1170.0,957.0 1173.4,956.5C1176.9,956.0 1180.5,956.3 1184.1,956.2C1187.7,956.1 1191.2,956.0 1194.8,955.9C1198.4,955.8 1201.9,955.7 1205.5,955.6C1209.1,955.5 1212.6,955.4 1216.2,955.2C1219.8,955.1 1223.3,955.0 1226.9,954.9C1230.5,954.8 1234.0,954.7 1237.6,954.6C1241.2,954.5 1244.7,954.4 1248.3,954.3C1251.9,954.2 1255.4,954.1 1259.0,954.0C1262.7,953.9 1266.5,953.8 1270.3,953.7C1274.1,953.6 1277.8,953.5 1281.6,953.4C1285.4,953.3 1289.1,953.2 1292.9,953.1C1296.7,953.0 1300.4,953.0 1304.2,952.9C1308.0,952.8 1311.7,952.7 1315.5,952.6C1319.3,952.5 1323.0,952.4 1326.8,952.3C1330.6,952.2 1334.6,951.8 1338.1,952.0C1341.2,952.2 1344.0,953.0 1346.9,953.5C1349.8,954.0 1352.8,954.4 1355.7,954.9C1358.6,955.4 1361.5,956.2 1364.5,956.4C1367.7,956.6 1371.1,956.2 1374.4,956.1C1377.7,956.0 1381.0,955.9 1384.3,955.8C1387.7,955.8 1391.0,955.7 1394.3,955.6C1397.6,955.5 1400.5,954.3 1404.2,955.3C1409.9,956.8 1419.1,962.4 1424.0,967.4C1428.3,971.8 1431.3,978.2 1432.8,982.9C1433.9,986.4 1433.4,989.5 1433.6,992.8C1433.9,996.1 1434.2,999.4 1434.4,1002.7C1434.7,1006.0 1435.0,1009.3 1435.3,1012.6C1435.5,1015.9 1435.9,1019.2 1436.1,1022.5C1436.3,1025.9 1436.5,1029.3 1436.8,1032.6C1437.0,1036.0 1437.2,1039.4 1437.4,1042.8C1437.6,1046.2 1437.9,1049.5 1438.1,1052.9C1438.3,1056.3 1438.5,1059.7 1438.7,1063.1C1439.0,1066.4 1439.2,1069.8 1439.4,1073.2C1439.6,1076.8 1439.9,1080.5 1440.1,1084.2C1440.4,1087.9 1440.6,1091.5 1440.9,1095.2C1441.1,1098.9 1441.4,1102.5 1441.6,1106.2C1441.8,1109.9 1442.1,1113.5 1442.3,1117.2C1442.6,1120.9 1442.8,1124.5 1443.1,1128.2C1443.3,1131.9 1443.5,1135.8 1443.8,1139.2C1444.1,1142.2 1444.4,1144.7 1444.7,1147.5C1445.0,1150.3 1445.2,1153.0 1445.5,1155.8C1445.8,1158.6 1446.0,1161.2 1446.4,1164.1C1446.9,1167.5 1447.8,1171.3 1448.5,1174.8C1449.2,1178.4 1450.0,1182.0 1450.7,1185.6C1451.4,1189.1 1452.0,1192.7 1452.8,1196.3C1453.6,1199.9 1454.5,1203.4 1455.3,1207.0C1456.1,1210.6 1457.0,1214.1 1457.8,1217.7C1458.6,1221.3 1459.6,1225.0 1460.3,1228.4C1460.9,1231.5 1461.2,1234.5 1461.7,1237.5C1462.1,1240.5 1462.5,1243.6 1463.0,1246.6C1463.5,1249.6 1463.9,1252.7 1464.3,1255.7C1464.8,1258.7 1465.2,1264.8 1465.7,1264.8C1466.2,1264.8 1466.8,1258.7 1467.3,1255.7C1467.8,1252.7 1468.4,1249.6 1468.9,1246.6C1469.4,1243.6 1470.0,1240.5 1470.5,1237.5C1471.0,1234.5 1471.7,1231.6 1472.1,1228.4C1472.5,1225.0 1472.6,1221.3 1472.9,1217.7C1473.1,1214.1 1473.4,1210.5 1473.6,1207.0C1473.9,1203.4 1474.2,1199.8 1474.4,1196.3C1474.7,1192.7 1474.9,1189.1 1475.2,1185.5C1475.4,1182.0 1475.7,1178.4 1476.0,1174.8C1476.2,1171.3 1476.5,1167.7 1476.7,1164.1C1477.0,1160.5 1477.3,1157.0 1477.5,1153.4C1477.7,1149.8 1477.9,1146.3 1478.1,1142.7C1478.3,1139.1 1478.5,1135.6 1478.7,1132.0C1478.9,1128.4 1479.1,1124.9 1479.3,1121.3C1479.5,1117.7 1479.8,1114.2 1480.0,1110.6C1480.2,1107.0 1480.4,1103.5 1480.6,1099.9C1480.8,1096.3 1481.0,1092.8 1481.2,1089.2C1481.4,1085.6 1481.5,1082.1 1481.8,1078.5C1482.1,1074.9 1482.5,1071.4 1482.8,1067.8C1483.2,1064.2 1483.6,1060.7 1483.9,1057.1C1484.2,1053.5 1484.6,1050.0 1485.0,1046.4C1485.3,1042.8 1485.1,1039.5 1486.0,1035.7C1487.0,1031.1 1490.3,1020.6 1491.4,1020.7C1492.2,1020.8 1492.4,1026.4 1492.8,1029.3C1493.3,1032.1 1493.8,1035.0 1494.3,1037.8C1494.7,1040.7 1495.4,1043.4 1495.7,1046.4C1496.0,1049.8 1495.9,1053.5 1496.0,1057.1C1496.2,1060.7 1496.3,1064.2 1496.4,1067.8C1496.5,1071.4 1496.6,1074.9 1496.8,1078.5C1496.9,1082.1 1497.0,1085.6 1497.1,1089.2C1497.2,1092.8 1497.3,1096.3 1497.5,1099.9C1497.6,1103.5 1497.7,1107.0 1497.8,1110.6C1497.9,1114.3 1498.1,1118.1 1498.2,1121.8C1498.3,1125.6 1498.5,1129.3 1498.6,1133.1C1498.7,1136.8 1498.9,1140.6 1499.0,1144.3C1499.1,1148.1 1499.3,1151.8 1499.4,1155.5C1499.5,1159.3 1499.7,1163.0 1499.8,1166.8C1499.9,1170.5 1500.1,1174.3 1500.2,1178.0C1500.3,1181.8 1500.5,1185.5 1500.6,1189.3C1500.7,1193.0 1500.9,1200.5 1501.0,1200.5C1501.1,1200.5 1501.2,1193.0 1501.3,1189.2C1501.4,1185.4 1501.5,1181.6 1501.6,1177.9C1501.7,1174.1 1501.8,1170.3 1501.9,1166.6C1502.0,1162.8 1502.2,1159.0 1502.3,1155.2C1502.4,1151.5 1502.5,1147.7 1502.6,1143.9C1502.7,1140.2 1502.8,1136.4 1502.9,1132.6C1503.0,1128.8 1503.1,1125.0 1503.2,1121.3C1503.3,1117.7 1503.4,1114.2 1503.5,1110.6C1503.7,1107.0 1503.8,1103.5 1503.9,1099.9C1504.0,1096.3 1504.1,1092.8 1504.2,1089.2C1504.4,1085.6 1504.5,1082.1 1504.6,1078.5C1504.7,1074.9 1504.8,1071.4 1505.0,1067.8C1505.1,1064.2 1505.1,1060.6 1505.3,1057.1C1505.5,1053.6 1505.9,1050.2 1506.2,1046.8C1506.4,1043.4 1506.7,1040.0 1507.0,1036.5C1507.3,1033.1 1507.6,1029.7 1507.9,1026.3C1508.2,1022.8 1508.5,1019.4 1508.7,1016.0C1509.0,1012.6 1509.3,1005.7 1509.6,1005.7C1509.9,1005.7 1510.2,1012.6 1510.5,1016.0C1510.7,1019.4 1511.0,1022.8 1511.3,1026.3C1511.6,1029.7 1511.9,1033.1 1512.2,1036.5C1512.5,1040.0 1512.8,1043.4 1513.0,1046.8C1513.3,1050.2 1513.7,1053.7 1513.9,1057.1C1514.1,1060.6 1514.0,1064.0 1514.1,1067.5C1514.1,1071.0 1514.2,1074.4 1514.2,1077.9C1514.3,1081.4 1514.3,1084.8 1514.4,1088.3C1514.4,1091.8 1514.5,1095.2 1514.5,1098.7C1514.6,1102.2 1514.6,1105.6 1514.7,1109.1C1514.7,1112.6 1514.8,1116.0 1514.8,1119.5C1514.9,1123.0 1514.9,1129.9 1515.0,1129.9C1515.1,1129.9 1515.3,1123.0 1515.5,1119.5C1515.6,1116.0 1515.8,1112.6 1515.9,1109.1C1516.1,1105.6 1516.2,1102.2 1516.4,1098.7C1516.5,1095.2 1516.7,1091.8 1516.8,1088.3C1517.0,1084.8 1517.1,1081.4 1517.3,1077.9C1517.4,1074.4 1517.6,1071.0 1517.7,1067.5C1517.9,1064.0 1518.0,1060.6 1518.2,1057.1C1518.4,1053.6 1518.5,1049.9 1518.7,1046.4C1518.9,1042.8 1519.1,1039.2 1519.2,1035.7C1519.4,1032.1 1519.6,1028.5 1519.8,1024.9C1520.0,1021.3 1519.7,1018.2 1520.3,1014.2C1521.1,1009.1 1523.7,997.0 1524.6,997.1C1525.3,997.1 1525.3,1003.5 1525.7,1006.8C1526.0,1010.0 1526.4,1013.2 1526.8,1016.4C1527.1,1019.6 1527.5,1022.8 1527.8,1026.0C1528.2,1029.3 1528.6,1032.4 1528.9,1035.7C1529.2,1039.2 1529.3,1042.8 1529.4,1046.4C1529.6,1050.0 1529.8,1053.5 1530.0,1057.1C1530.1,1060.7 1530.3,1064.2 1530.5,1067.8C1530.7,1071.4 1530.9,1074.9 1531.0,1078.5C1531.2,1082.1 1531.4,1085.6 1531.6,1089.2C1531.7,1092.8 1532.0,1096.3 1532.1,1099.9C1532.2,1103.6 1532.3,1107.3 1532.4,1111.0C1532.6,1114.7 1532.7,1118.3 1532.8,1122.0C1532.9,1125.7 1533.0,1129.4 1533.2,1133.1C1533.3,1136.8 1533.4,1140.5 1533.5,1144.2C1533.6,1147.9 1533.7,1151.5 1533.8,1155.2C1534.0,1158.9 1534.1,1166.3 1534.2,1166.3C1534.3,1166.3 1534.5,1159.0 1534.6,1155.3C1534.7,1151.7 1534.9,1148.0 1535.0,1144.3C1535.1,1140.7 1535.3,1137.0 1535.4,1133.4C1535.5,1129.7 1535.7,1126.1 1535.8,1122.4C1535.9,1118.7 1536.1,1115.1 1536.2,1111.4C1536.3,1107.8 1536.5,1104.1 1536.6,1100.5C1536.7,1096.8 1536.9,1093.1 1537.0,1089.5C1537.1,1085.8 1537.3,1082.1 1537.4,1078.5C1537.5,1074.9 1537.7,1071.4 1537.9,1067.8C1538.0,1064.2 1538.2,1060.6 1538.3,1057.1C1538.5,1053.5 1538.6,1049.9 1538.8,1046.4C1538.9,1042.8 1539.1,1039.2 1539.2,1035.6C1539.4,1032.1 1539.5,1028.5 1539.7,1024.9C1539.8,1021.4 1540.0,1017.8 1540.1,1014.2C1540.3,1010.6 1540.1,1007.1 1540.6,1003.5C1541.1,999.7 1542.5,995.9 1543.5,992.1C1544.4,988.3 1545.4,984.5 1546.3,980.7C1547.3,976.9 1548.2,969.3 1549.2,969.3C1550.5,969.3 1552.8,983.1 1553.5,988.5C1554.0,992.5 1553.9,995.4 1554.0,998.9C1554.2,1002.3 1554.4,1005.8 1554.6,1009.2C1554.7,1012.7 1554.9,1016.1 1555.1,1019.5C1555.3,1023.0 1555.5,1026.4 1555.6,1029.9C1555.8,1033.4 1556.0,1036.8 1556.2,1040.2C1556.3,1043.7 1556.4,1050.6 1556.7,1050.6C1557.0,1050.6 1557.4,1042.8 1557.8,1038.8C1558.1,1034.9 1558.5,1031.0 1558.8,1027.0C1559.2,1023.1 1559.6,1019.2 1559.9,1015.3C1560.3,1011.3 1560.7,1007.2 1561.0,1003.5C1561.3,1000.2 1561.5,997.3 1561.8,994.1C1562.1,991.0 1562.3,987.9 1562.6,984.8C1562.9,981.7 1563.1,978.6 1563.4,975.5C1563.7,972.3 1564.0,966.1 1564.2,966.1C1564.5,966.1 1564.7,973.8 1564.9,977.7C1565.2,981.6 1565.4,985.4 1565.6,989.3C1565.9,993.2 1566.1,997.0 1566.3,1000.9C1566.6,1004.8 1566.8,1008.6 1567.1,1012.5C1567.3,1016.4 1567.5,1020.2 1567.8,1024.1C1568.0,1028.0 1567.9,1035.6 1568.5,1035.7C1569.4,1035.8 1572.5,1012.1 1573.8,1012.1C1574.7,1012.1 1575.1,1019.6 1575.7,1023.4C1576.3,1027.1 1576.9,1030.9 1577.5,1034.6C1578.2,1038.3 1578.8,1042.1 1579.4,1045.8C1580.1,1049.6 1580.9,1053.4 1581.3,1057.1C1581.7,1060.7 1581.6,1064.2 1581.8,1067.8C1581.9,1071.4 1582.1,1074.9 1582.3,1078.5C1582.4,1082.1 1582.6,1085.6 1582.7,1089.2C1582.9,1092.8 1583.1,1096.3 1583.2,1099.9C1583.4,1103.5 1583.5,1107.0 1583.7,1110.6C1583.8,1114.2 1584.0,1117.7 1584.2,1121.3C1584.3,1124.9 1584.5,1128.4 1584.6,1132.0C1584.8,1135.6 1585.0,1139.1 1585.1,1142.7C1585.3,1146.3 1585.4,1149.8 1585.6,1153.4C1585.8,1157.0 1586.2,1160.5 1586.5,1164.1C1586.7,1167.7 1587.0,1171.3 1587.3,1174.8C1587.6,1178.4 1587.9,1182.0 1588.2,1185.6C1588.5,1189.1 1588.8,1192.7 1589.0,1196.3C1589.3,1199.9 1589.5,1203.4 1589.9,1207.0C1590.3,1210.6 1590.8,1214.1 1591.2,1217.7C1591.6,1221.3 1592.0,1224.8 1592.5,1228.4C1592.9,1232.0 1593.3,1235.5 1593.7,1239.1C1594.2,1242.7 1594.6,1246.2 1595.0,1249.8C1595.4,1253.4 1595.7,1256.9 1596.3,1260.5C1596.9,1264.1 1597.7,1267.6 1598.4,1271.2C1599.1,1274.8 1599.9,1278.3 1600.6,1281.9C1601.3,1285.5 1602.0,1292.6 1602.7,1292.6C1603.4,1292.6 1604.1,1285.5 1604.9,1281.9C1605.6,1278.3 1606.3,1274.8 1607.0,1271.2C1607.8,1267.6 1607.9,1264.1 1609.2,1260.5C1610.6,1256.3 1614.3,1251.7 1615.6,1247.6C1616.7,1244.1 1616.7,1240.8 1617.2,1237.4C1617.7,1234.1 1618.3,1230.7 1618.8,1227.3C1619.3,1223.9 1619.9,1220.5 1620.4,1217.2C1620.9,1213.8 1621.5,1210.4 1622.0,1207.0C1622.5,1203.5 1623.1,1199.8 1623.6,1196.3C1624.1,1192.7 1624.7,1189.1 1625.2,1185.5C1625.7,1182.0 1626.3,1178.4 1626.8,1174.8C1627.3,1171.2 1627.9,1164.1 1628.4,1164.1C1628.9,1164.1 1629.3,1171.2 1629.8,1174.8C1630.2,1178.4 1630.7,1182.0 1631.1,1185.5C1631.5,1189.1 1632.0,1192.7 1632.5,1196.3C1632.9,1199.8 1633.5,1203.4 1633.8,1207.0C1634.1,1210.7 1634.1,1214.4 1634.2,1218.1C1634.4,1221.8 1634.5,1225.5 1634.6,1229.2C1634.8,1232.9 1634.9,1236.7 1635.1,1240.4C1635.2,1244.1 1635.3,1247.8 1635.5,1251.5C1635.6,1255.2 1635.7,1262.6 1635.9,1262.6C1636.1,1262.6 1636.6,1254.7 1636.9,1250.8C1637.2,1246.8 1637.6,1242.9 1637.9,1238.9C1638.2,1235.0 1638.6,1231.1 1638.9,1227.1C1639.2,1223.2 1639.5,1219.2 1639.9,1215.3C1640.2,1211.6 1640.6,1208.0 1641.0,1204.3C1641.4,1200.6 1641.7,1196.9 1642.1,1193.3C1642.5,1189.6 1642.8,1185.9 1643.2,1182.3C1643.6,1178.6 1643.9,1174.9 1644.3,1171.2C1644.7,1167.6 1645.0,1163.9 1645.4,1160.2C1645.8,1156.6 1646.1,1152.9 1646.5,1149.2C1646.9,1145.5 1647.1,1141.9 1647.6,1138.2C1648.1,1134.5 1648.9,1130.9 1649.5,1127.2C1650.2,1123.5 1650.8,1119.9 1651.4,1116.2C1652.1,1112.5 1652.7,1108.9 1653.4,1105.2C1654.0,1101.5 1654.8,1094.2 1655.3,1094.2C1655.8,1094.2 1656.0,1101.5 1656.4,1105.2C1656.8,1108.9 1657.1,1112.5 1657.5,1116.2C1657.9,1119.9 1658.2,1123.5 1658.6,1127.2C1659.0,1130.9 1659.5,1134.5 1659.7,1138.2C1659.9,1141.9 1659.9,1145.5 1660.1,1149.2C1660.2,1152.9 1660.3,1156.6 1660.4,1160.2C1660.6,1163.9 1660.7,1167.6 1660.8,1171.2C1660.9,1174.9 1661.0,1178.6 1661.2,1182.3C1661.3,1185.9 1661.4,1189.6 1661.5,1193.3C1661.7,1197.0 1661.7,1200.6 1661.9,1204.3C1662.1,1208.0 1662.3,1211.6 1662.6,1215.3C1662.8,1219.0 1663.0,1222.7 1663.2,1226.3C1663.4,1230.0 1663.7,1233.7 1663.9,1237.4C1664.1,1241.0 1664.3,1244.7 1664.5,1248.4C1664.8,1252.1 1664.8,1259.4 1665.2,1259.4C1665.6,1259.4 1666.3,1252.0 1666.9,1248.4C1667.4,1244.7 1668.0,1241.0 1668.6,1237.3C1669.1,1233.7 1669.7,1230.0 1670.2,1226.3C1670.8,1222.7 1671.5,1219.0 1671.9,1215.3C1672.3,1211.6 1672.5,1208.0 1672.8,1204.3C1673.1,1200.6 1673.4,1197.0 1673.7,1193.3C1674.0,1189.6 1674.3,1186.0 1674.7,1182.3C1675.0,1178.6 1675.3,1175.0 1675.6,1171.3C1675.9,1167.6 1676.2,1164.0 1676.5,1160.3C1676.8,1156.6 1676.8,1152.8 1677.4,1149.3C1678.0,1146.0 1679.0,1142.9 1679.9,1139.7C1680.7,1136.4 1681.5,1133.2 1682.3,1130.0C1683.2,1126.8 1684.0,1123.6 1684.8,1120.3C1685.7,1117.1 1686.7,1110.7 1687.3,1110.7C1687.9,1110.7 1688.2,1117.1 1688.7,1120.3C1689.1,1123.6 1689.6,1126.8 1690.0,1130.0C1690.5,1133.2 1691.0,1136.4 1691.4,1139.7C1691.9,1142.9 1692.5,1146.0 1692.8,1149.3C1693.1,1152.6 1692.9,1156.0 1693.0,1159.4C1693.1,1162.8 1693.2,1166.2 1693.2,1169.5C1693.3,1172.9 1693.4,1176.3 1693.5,1179.7C1693.5,1183.0 1693.6,1186.4 1693.7,1189.8C1693.8,1193.2 1693.8,1199.9 1693.9,1199.9C1694.0,1199.9 1694.3,1193.2 1694.6,1189.8C1694.8,1186.4 1695.0,1183.0 1695.2,1179.7C1695.4,1176.3 1695.7,1172.9 1695.9,1169.5C1696.1,1166.2 1696.3,1162.8 1696.5,1159.4C1696.8,1156.0 1696.9,1152.7 1697.2,1149.3C1697.5,1145.7 1698.1,1142.0 1698.6,1138.3C1699.0,1134.6 1699.5,1130.9 1700.0,1127.2C1700.4,1123.6 1700.9,1119.9 1701.3,1116.2C1701.8,1112.5 1702.1,1108.9 1702.7,1105.2C1703.3,1101.5 1704.2,1097.9 1704.9,1094.2C1705.6,1090.5 1706.4,1086.8 1707.1,1083.2C1707.8,1079.5 1708.6,1075.8 1709.3,1072.1C1710.0,1068.5 1710.8,1064.8 1711.5,1061.1C1712.2,1057.4 1712.8,1053.6 1713.7,1050.1C1714.5,1046.8 1715.5,1043.9 1716.5,1040.8C1717.4,1037.6 1718.3,1034.5 1719.2,1031.4C1720.1,1028.3 1721.0,1025.2 1722.0,1022.0C1722.9,1018.9 1723.8,1015.9 1724.7,1012.7C1725.6,1009.4 1726.5,1006.1 1727.5,1002.8C1728.4,999.5 1729.3,996.2 1730.2,992.9C1731.1,989.5 1732.0,986.2 1733.0,982.9C1733.9,979.6 1734.4,976.8 1735.7,973.0C1737.5,967.5 1741.2,953.1 1743.4,953.2C1745.6,953.3 1748.1,967.3 1748.9,973.0C1749.5,977.2 1749.0,980.3 1749.1,984.0C1749.2,987.7 1749.3,991.4 1749.3,995.0C1749.4,998.7 1749.5,1002.4 1749.6,1006.1C1749.6,1009.7 1749.7,1013.4 1749.8,1017.1C1749.9,1020.8 1749.9,1024.4 1750.0,1028.1C1750.1,1031.8 1750.2,1035.4 1750.4,1039.1C1750.5,1042.8 1750.6,1046.5 1750.7,1050.1C1750.9,1053.8 1751.0,1057.5 1751.1,1061.2C1751.2,1064.8 1751.3,1068.5 1751.5,1072.2C1751.6,1075.8 1751.7,1079.5 1751.8,1083.2C1752.0,1086.9 1752.1,1090.5 1752.2,1094.2C1752.3,1097.9 1752.4,1101.5 1752.6,1105.2C1752.7,1108.9 1752.8,1112.6 1752.9,1116.2C1753.1,1119.9 1753.2,1123.6 1753.3,1127.2C1753.4,1130.9 1753.5,1134.6 1753.7,1138.3C1753.8,1141.9 1753.9,1145.6 1754.0,1149.3C1754.2,1153.0 1754.3,1156.7 1754.4,1160.3C1754.5,1163.9 1754.7,1167.3 1754.9,1170.9C1755.0,1174.4 1755.2,1177.9 1755.3,1181.4C1755.5,1184.9 1755.6,1188.5 1755.8,1192.0C1755.9,1195.5 1756.1,1199.0 1756.2,1202.5C1756.4,1206.1 1756.5,1213.1 1756.7,1213.1C1756.9,1213.1 1757.1,1205.5 1757.3,1201.8C1757.5,1198.0 1757.7,1194.2 1758.0,1190.4C1758.2,1186.7 1758.4,1182.9 1758.6,1179.1C1758.8,1175.3 1759.0,1171.6 1759.2,1167.8C1759.4,1164.0 1759.6,1160.2 1759.8,1156.5C1760.1,1152.7 1760.3,1148.9 1760.5,1145.1C1760.7,1141.4 1760.9,1133.8 1761.1,1133.8C1761.3,1133.8 1761.3,1141.6 1761.5,1145.5C1761.6,1149.5 1761.7,1153.4 1761.8,1157.3C1762.0,1161.2 1762.1,1165.1 1762.2,1169.0C1762.3,1173.0 1762.4,1176.9 1762.6,1180.8C1762.7,1184.7 1762.8,1188.6 1762.9,1192.5C1763.1,1196.5 1763.1,1200.4 1763.3,1204.3C1763.5,1208.3 1763.7,1212.3 1763.9,1216.3C1764.1,1220.2 1764.3,1224.2 1764.6,1228.2C1764.8,1232.2 1765.0,1236.2 1765.2,1240.2C1765.4,1244.2 1765.6,1248.1 1765.8,1252.1C1766.0,1256.1 1766.2,1260.1 1766.4,1264.1C1766.7,1268.1 1766.9,1272.1 1767.1,1276.0C1767.3,1280.0 1767.4,1288.0 1767.7,1288.0C1768.0,1288.0 1768.4,1281.4 1768.8,1278.1C1769.2,1274.8 1769.5,1271.5 1769.9,1268.2C1770.3,1264.9 1770.6,1261.6 1771.0,1258.3C1771.4,1255.0 1771.7,1251.8 1772.1,1248.4C1772.5,1244.8 1772.8,1241.0 1773.2,1237.4C1773.6,1233.7 1773.9,1230.0 1774.3,1226.3C1774.7,1222.7 1774.9,1219.0 1775.4,1215.3C1775.9,1211.6 1776.6,1208.0 1777.2,1204.3C1777.7,1200.6 1778.3,1197.0 1778.9,1193.3C1779.5,1189.6 1780.1,1186.0 1780.7,1182.3C1781.3,1178.6 1781.9,1175.0 1782.4,1171.3C1783.0,1167.6 1783.5,1163.8 1784.2,1160.3C1784.8,1157.0 1785.7,1153.8 1786.4,1150.6C1787.1,1147.4 1787.9,1144.1 1788.6,1140.9C1789.3,1137.7 1790.1,1134.4 1790.8,1131.2C1791.5,1128.0 1792.3,1124.7 1793.0,1121.5C1793.7,1118.3 1794.3,1115.8 1795.2,1111.8C1796.6,1105.5 1799.6,1087.5 1800.7,1087.6C1801.4,1087.6 1801.4,1093.8 1801.8,1096.9C1802.2,1100.1 1802.5,1103.2 1802.9,1106.3C1803.3,1109.4 1803.6,1112.5 1804.0,1115.7C1804.4,1118.8 1804.8,1125.0 1805.1,1125.0C1805.4,1125.0 1805.6,1118.0 1805.9,1114.5C1806.2,1111.1 1806.5,1107.6 1806.8,1104.1C1807.0,1100.6 1807.3,1097.1 1807.6,1093.7C1807.9,1090.2 1808.0,1086.6 1808.4,1083.2C1808.8,1079.8 1809.4,1076.5 1809.9,1073.2C1810.4,1069.9 1810.9,1066.6 1811.5,1063.2C1812.0,1059.9 1812.5,1056.6 1813.0,1053.3C1813.5,1050.0 1813.5,1046.8 1814.5,1043.3C1815.7,1039.0 1819.2,1029.5 1820.2,1029.7C1821.0,1029.8 1820.8,1035.7 1821.0,1038.8C1821.3,1041.8 1821.6,1044.8 1821.9,1047.8C1822.2,1050.8 1822.5,1053.8 1822.8,1056.9C1823.0,1059.9 1823.4,1062.8 1823.6,1065.9C1823.8,1069.3 1823.8,1073.0 1823.9,1076.6C1824.0,1080.1 1824.1,1083.7 1824.3,1087.2C1824.4,1090.8 1824.5,1094.4 1824.6,1097.9C1824.7,1101.5 1824.8,1105.0 1824.9,1108.6C1825.0,1112.1 1825.1,1115.7 1825.2,1119.3C1825.4,1122.8 1825.5,1126.4 1825.6,1129.9C1825.7,1133.5 1825.7,1140.6 1825.9,1140.6C1826.1,1140.6 1826.3,1133.5 1826.5,1129.9C1826.8,1126.4 1827.0,1122.8 1827.2,1119.3C1827.4,1115.7 1827.6,1112.1 1827.8,1108.6C1828.0,1105.0 1828.3,1101.5 1828.5,1097.9C1828.7,1094.4 1828.9,1090.8 1829.1,1087.2C1829.3,1083.7 1829.5,1080.1 1829.8,1076.6C1830.0,1073.0 1830.0,1069.4 1830.4,1065.9C1830.8,1062.4 1831.6,1059.0 1832.2,1055.5C1832.8,1052.0 1833.4,1048.5 1834.0,1045.1C1834.6,1041.6 1835.2,1038.1 1835.8,1034.6C1836.4,1031.2 1837.0,1027.7 1837.6,1024.2C1838.2,1020.7 1838.5,1017.0 1839.4,1013.8C1840.3,1010.9 1841.7,1008.5 1842.8,1005.9C1843.9,1003.2 1845.1,1000.6 1846.2,997.9C1847.3,995.3 1848.9,989.9 1849.6,990.0C1850.4,990.1 1850.2,997.1 1850.5,1000.7C1850.8,1004.2 1851.1,1007.8 1851.4,1011.3C1851.7,1014.9 1852.1,1018.4 1852.4,1022.0C1852.7,1025.5 1853.0,1029.1 1853.3,1032.6C1853.6,1036.2 1854.0,1039.8 1854.2,1043.3C1854.4,1046.7 1854.3,1050.1 1854.4,1053.5C1854.4,1056.9 1854.5,1060.3 1854.6,1063.7C1854.6,1067.1 1854.7,1070.5 1854.8,1073.8C1854.8,1077.2 1854.9,1080.6 1854.9,1084.0C1855.0,1087.4 1855.1,1090.8 1855.1,1094.2C1855.2,1097.6 1855.2,1104.4 1855.3,1104.4C1855.4,1104.4 1855.8,1096.9 1856.0,1093.1C1856.2,1089.3 1856.4,1085.5 1856.7,1081.8C1856.9,1078.0 1857.1,1074.2 1857.3,1070.4C1857.6,1066.7 1857.8,1062.9 1858.0,1059.1C1858.2,1055.3 1858.3,1047.8 1858.7,1047.8C1859.2,1047.8 1860.6,1060.5 1861.0,1065.9C1861.3,1070.2 1861.2,1073.6 1861.3,1077.4C1861.3,1081.2 1861.4,1085.1 1861.5,1088.9C1861.6,1092.7 1861.7,1096.6 1861.8,1100.4C1861.9,1104.2 1862.0,1108.1 1862.0,1111.9C1862.1,1115.7 1862.2,1119.6 1862.3,1123.4C1862.4,1127.2 1862.5,1131.1 1862.6,1134.9C1862.7,1138.7 1862.7,1142.6 1862.8,1146.4C1862.9,1150.2 1863.0,1154.1 1863.1,1157.9C1863.2,1161.7 1863.3,1165.6 1863.4,1169.4C1863.4,1173.2 1863.5,1177.1 1863.6,1180.9C1863.7,1184.7 1863.8,1188.6 1863.9,1192.4C1864.0,1196.2 1864.1,1200.1 1864.1,1203.9C1864.2,1207.7 1864.3,1215.4 1864.4,1215.4C1864.6,1215.4 1864.8,1207.6 1865.0,1203.7C1865.3,1199.9 1865.5,1196.0 1865.7,1192.1C1865.9,1188.2 1866.1,1184.3 1866.3,1180.4C1866.5,1176.5 1866.8,1172.7 1867.0,1168.8C1867.2,1164.9 1867.4,1161.0 1867.6,1157.1C1867.8,1153.2 1868.0,1149.3 1868.3,1145.5C1868.5,1141.6 1868.7,1137.7 1868.9,1133.8C1869.1,1130.0 1869.2,1126.3 1869.4,1122.5C1869.5,1118.7 1869.7,1114.9 1869.8,1111.2C1870.0,1107.4 1870.1,1103.6 1870.3,1099.8C1870.4,1096.1 1870.6,1092.3 1870.7,1088.5C1870.9,1084.7 1870.8,1080.8 1871.2,1077.2C1871.6,1073.8 1872.3,1070.8 1872.9,1067.6C1873.5,1064.4 1874.0,1061.2 1874.6,1058.0C1875.2,1054.7 1875.7,1051.5 1876.3,1048.3C1876.9,1045.1 1877.2,1041.9 1878.0,1038.7C1878.8,1035.4 1880.0,1032.2 1881.0,1028.9C1882.0,1025.6 1883.0,1022.4 1884.0,1019.1C1885.0,1015.8 1885.6,1013.2 1887.0,1009.3C1889.1,1003.3 1894.0,992.4 1896.1,986.6C1897.4,983.0 1898.0,980.8 1898.9,977.8C1899.9,974.9 1900.8,972.0 1901.8,969.0C1902.7,966.1 1903.6,963.2 1904.6,960.3C1905.5,957.4 1906.7,951.4 1907.4,951.5C1908.2,951.6 1908.4,959.3 1908.9,963.2C1909.4,967.1 1909.9,971.0 1910.4,974.9C1910.9,978.8 1911.6,982.7 1911.9,986.6C1912.2,990.6 1912.0,994.6 1912.1,998.5C1912.1,1002.5 1912.2,1006.5 1912.2,1010.5C1912.3,1014.4 1912.3,1018.4 1912.4,1022.4C1912.4,1026.4 1912.5,1030.4 1912.5,1034.3C1912.6,1038.3 1912.6,1042.3 1912.7,1046.3C1912.7,1050.2 1912.8,1054.2 1912.8,1058.2C1912.9,1062.2 1912.9,1066.2 1913.0,1070.1C1913.0,1074.1 1913.1,1078.1 1913.1,1082.1C1913.2,1086.0 1913.2,1090.0 1913.3,1094.0C1913.3,1098.0 1913.4,1102.0 1913.4,1105.9C1913.5,1109.9 1913.5,1113.9 1913.6,1117.9C1913.6,1121.8 1913.7,1125.8 1913.7,1129.8C1913.8,1133.8 1913.8,1137.8 1913.9,1141.7C1913.9,1145.7 1914.0,1149.7 1914.0,1153.7C1914.1,1157.6 1914.1,1165.6 1914.2,1165.6C1914.3,1165.6 1914.5,1158.3 1914.7,1154.6C1914.8,1150.9 1915.0,1147.3 1915.2,1143.6C1915.3,1139.9 1915.5,1136.3 1915.7,1132.6C1915.8,1128.9 1916.0,1125.3 1916.1,1121.6C1916.3,1117.9 1916.5,1114.3 1916.6,1110.6C1916.8,1106.9 1917.0,1103.3 1917.1,1099.6C1917.3,1095.9 1917.4,1092.3 1917.6,1088.6C1917.8,1084.8 1918.1,1081.0 1918.3,1077.3C1918.5,1073.5 1918.7,1069.7 1919.0,1065.9C1919.2,1062.1 1919.4,1058.4 1919.6,1054.6C1919.9,1050.8 1920.1,1047.0 1920.3,1043.2C1920.5,1039.5 1920.8,1035.7 1921.0,1031.9C1921.2,1028.2 1921.4,1024.5 1921.6,1020.8C1921.8,1017.1 1921.9,1013.3 1922.1,1009.6C1922.3,1005.9 1922.5,1002.2 1922.7,998.5C1922.9,994.8 1923.1,991.1 1923.3,987.4C1923.5,983.7 1923.6,979.9 1923.8,976.2C1924.0,972.5 1924.2,965.1 1924.4,965.1C1924.6,965.1 1924.8,972.0 1925.0,975.5C1925.2,978.9 1925.3,982.4 1925.5,985.9C1925.7,989.3 1925.9,992.8 1926.1,996.2C1926.3,999.7 1926.5,1003.2 1926.7,1006.6C1926.9,1010.1 1927.0,1013.6 1927.2,1017.0C1927.4,1020.5 1927.7,1023.8 1927.8,1027.4C1927.9,1031.2 1927.9,1035.2 1928.0,1039.1C1928.1,1043.0 1928.1,1047.0 1928.2,1050.9C1928.3,1054.8 1928.3,1058.7 1928.4,1062.6C1928.5,1066.5 1928.5,1070.4 1928.6,1074.3C1928.7,1078.3 1928.7,1082.2 1928.8,1086.1C1928.9,1090.0 1928.9,1093.9 1929.0,1097.8C1929.1,1101.7 1929.1,1105.6 1929.2,1109.6C1929.3,1113.5 1929.3,1117.4 1929.4,1121.3C1929.5,1125.2 1929.5,1129.1 1929.6,1133.0C1929.7,1136.9 1929.7,1140.9 1929.8,1144.8C1929.9,1148.7 1929.9,1152.7 1930.0,1156.5C1930.1,1160.2 1930.2,1163.8 1930.3,1167.4C1930.4,1171.0 1930.5,1174.6 1930.6,1178.3C1930.7,1181.9 1930.9,1185.5 1931.0,1189.1C1931.1,1192.8 1931.2,1196.4 1931.3,1200.0C1931.4,1203.6 1931.5,1210.9 1931.6,1210.9C1931.7,1210.9 1931.8,1203.5 1931.9,1199.8C1932.0,1196.1 1932.2,1192.4 1932.3,1188.7C1932.4,1185.1 1932.5,1181.4 1932.6,1177.7C1932.7,1174.0 1932.8,1170.3 1932.9,1166.6C1933.0,1162.9 1933.2,1159.2 1933.3,1155.5C1933.4,1151.8 1933.5,1148.1 1933.6,1144.4C1933.7,1140.7 1933.8,1137.0 1933.9,1133.4C1934.0,1129.7 1934.2,1126.0 1934.3,1122.3C1934.4,1118.6 1934.4,1114.8 1934.6,1111.2C1934.8,1107.7 1935.1,1104.3 1935.3,1100.8C1935.5,1097.3 1935.7,1093.8 1936.0,1090.4C1936.2,1086.9 1936.4,1083.4 1936.6,1079.9C1936.9,1076.5 1937.1,1073.0 1937.3,1069.5C1937.5,1066.0 1937.8,1059.1 1938.0,1059.1C1938.2,1059.1 1938.5,1066.6 1938.7,1070.4C1938.9,1074.2 1939.1,1078.0 1939.4,1081.7C1939.6,1085.5 1939.8,1089.3 1940.0,1093.1C1940.3,1096.8 1940.5,1100.6 1940.7,1104.4C1940.9,1108.2 1941.2,1112.0 1941.4,1115.7C1941.6,1119.3 1941.6,1122.9 1941.7,1126.5C1941.8,1130.0 1941.9,1133.6 1942.0,1137.2C1942.0,1140.8 1942.1,1144.4 1942.2,1148.0C1942.3,1151.6 1942.4,1155.2 1942.5,1158.8C1942.6,1162.3 1942.7,1165.9 1942.8,1169.5C1942.9,1173.1 1943.0,1176.7 1943.0,1180.3C1943.1,1183.9 1943.2,1187.5 1943.3,1191.0C1943.4,1194.6 1943.5,1198.2 1943.6,1201.8C1943.7,1205.4 1943.8,1209.1 1943.9,1212.8C1944.0,1216.5 1944.1,1220.1 1944.3,1223.8C1944.4,1227.5 1944.5,1231.1 1944.6,1234.8C1944.7,1238.5 1944.8,1242.1 1944.9,1245.8C1945.0,1249.5 1945.1,1253.1 1945.2,1256.8C1945.4,1260.5 1945.5,1264.1 1945.6,1267.8C1945.7,1271.5 1945.7,1278.8 1945.9,1278.8C1946.1,1278.8 1946.4,1271.5 1946.7,1267.8C1947.0,1264.1 1947.3,1260.5 1947.5,1256.8C1947.8,1253.1 1948.1,1249.5 1948.3,1245.8C1948.6,1242.1 1948.9,1238.5 1949.2,1234.8C1949.4,1231.1 1949.7,1227.5 1950.0,1223.8C1950.2,1220.1 1950.5,1216.5 1950.8,1212.8C1951.1,1209.1 1951.3,1205.5 1951.6,1201.8C1951.9,1198.1 1952.2,1194.3 1952.5,1190.5C1952.8,1186.7 1953.1,1182.9 1953.4,1179.2C1953.7,1175.4 1954.0,1171.6 1954.3,1167.8C1954.6,1164.1 1954.9,1160.3 1955.2,1156.5C1955.5,1152.7 1955.7,1149.0 1956.1,1145.2C1956.5,1141.4 1957.0,1137.6 1957.5,1133.9C1958.0,1130.1 1958.5,1126.3 1958.9,1122.6C1959.4,1118.8 1959.9,1115.0 1960.4,1111.2C1960.9,1107.5 1961.2,1103.5 1961.8,1099.9C1962.4,1096.5 1963.3,1093.3 1964.1,1090.1C1964.8,1086.8 1965.6,1083.5 1966.3,1080.2C1967.1,1077.0 1967.6,1073.5 1968.6,1070.4C1969.5,1067.4 1970.8,1064.8 1972.0,1061.9C1973.1,1059.1 1974.2,1056.3 1975.3,1053.5C1976.5,1050.6 1977.6,1047.8 1978.7,1045.0C1979.8,1042.1 1980.2,1039.6 1982.1,1036.5C1984.9,1031.8 1995.7,1020.6 1995.7,1020.6"/>
</g>
<g stroke="#000" stroke-width="1.6" fill="none">
<line x1="1378.5" y1="385.5" x2="1419.1" y2="369.5"/>
<line x1="1435.0" y1="414.1" x2="1460.5" y2="444.3"/>
<line x1="1503.4" y1="445.9" x2="1516.2" y2="474.6"/>
<line x1="1570.3" y1="506.4" x2="1594.9" y2="535.8"/>
<line x1="1435.3" y1="1283.6" x2="1465.1" y2="1268.7"/>
<line x1="1578.0" y1="1307.8" x2="1606.0" y2="1295.7"/>
<line x1="1740.3" y1="1316.2" x2="1767.4" y2="1292.0"/>
</g>
<g stroke="#000" fill="none" stroke-width="5.2">
<rect x="188.5" y="84.0" width="1808.5" height="1331.0"/>
<line x1="446.3" y1="1415.0" x2="446.3" y2="1387.5"/>
<line x1="704.6" y1="1415.0" x2="704.6" y2="1387.5"/>
<line x1="962.9" y1="1415.0" x2="962.9" y2="1387.5"/>
<line x1="1221.1" y1="1415.0" x2="1221.1" y2="1387.5"/>
<line x1="1479.4" y1="1415.0" x2="1479.4" y2="1387.5"/>
<line x1="1737.7" y1="1415.0" x2="1737.7" y2="1387.5"/>
</g>
<g class="sans" font-size="58" text-anchor="middle" fill="#000">
<text transform="translate(188.0,1488.8) scale(0.965,1)">4000</text>
<text transform="translate(446.3,1488.8) scale(0.965,1)">3500</text>
<text transform="translate(704.6,1488.8) scale(0.965,1)">3000</text>
<text transform="translate(962.9,1488.8) scale(0.965,1)">2500</text>
<text transform="translate(1221.1,1488.8) scale(0.965,1)">2000</text>
<text transform="translate(1479.4,1488.8) scale(0.965,1)">1500</text>
<text transform="translate(1737.7,1488.8) scale(0.965,1)">1000</text>
<text transform="translate(1996.0,1488.8) scale(0.965,1)">500</text>
</g>
<g class="serif" font-weight="bold" font-size="69" fill="#000">
<text x="202.0" y="170.9">(a) Complex 1</text>
<text x="199.0" y="546.1">(b) Complex 1+HMX</text>
<text x="196.0" y="921.4">(c) HMX</text>
</g>
<text class="sans" font-weight="bold" font-size="83" text-anchor="middle" x="1052.5" y="1576.1">Wave number (cm<tspan font-size="52" font-weight="normal" dy="-39.0">-1</tspan><tspan dy="39.0">)</tspan></text>
<text class="sans" font-weight="bold" font-size="83" text-anchor="middle" transform="translate(142.5,776.0) rotate(-90)">Counts (a.u.)</text>
<g class="sans" font-weight="bold" font-size="70" text-anchor="middle" fill="#000">
<text transform="translate(649.8,370.5) rotate(-90) scale(0.962,1)">3155</text>
<text transform="translate(1391.3,453.9) rotate(-90) scale(0.962,1)">1627</text>
<text transform="translate(1470.0,499.6) rotate(-90) scale(0.962,1)">1587</text>
<text transform="translate(1537.6,542.2) rotate(-90) scale(0.962,1)">1454</text>
<text transform="translate(1648.2,539.4) rotate(-90) scale(0.962,1)">1332</text>
<text transform="translate(633.4,731.2) rotate(-90) scale(0.962,1)">3155</text>
<text transform="translate(711.6,738.9) rotate(-90) scale(0.962,1)">3036</text>
<text transform="translate(710.9,1098.8) rotate(-90) scale(0.962,1)">3036</text>
<text transform="translate(1429.7,1334.9) rotate(-90) scale(0.962,1)">1523</text>
<text transform="translate(1574.3,1334.4) rotate(-90) scale(0.962,1)">1260</text>
<text transform="translate(1729.1,1330.2) rotate(-90) scale(0.962,1)">948</text>
<text transform="translate(1879.4,1276.1) rotate(-90) scale(0.962,1)">759</text>
<text transform="translate(1969.6,1336.3) rotate(-90) scale(0.962,1)">598</text>
</g>
</svg>
</body></html>
